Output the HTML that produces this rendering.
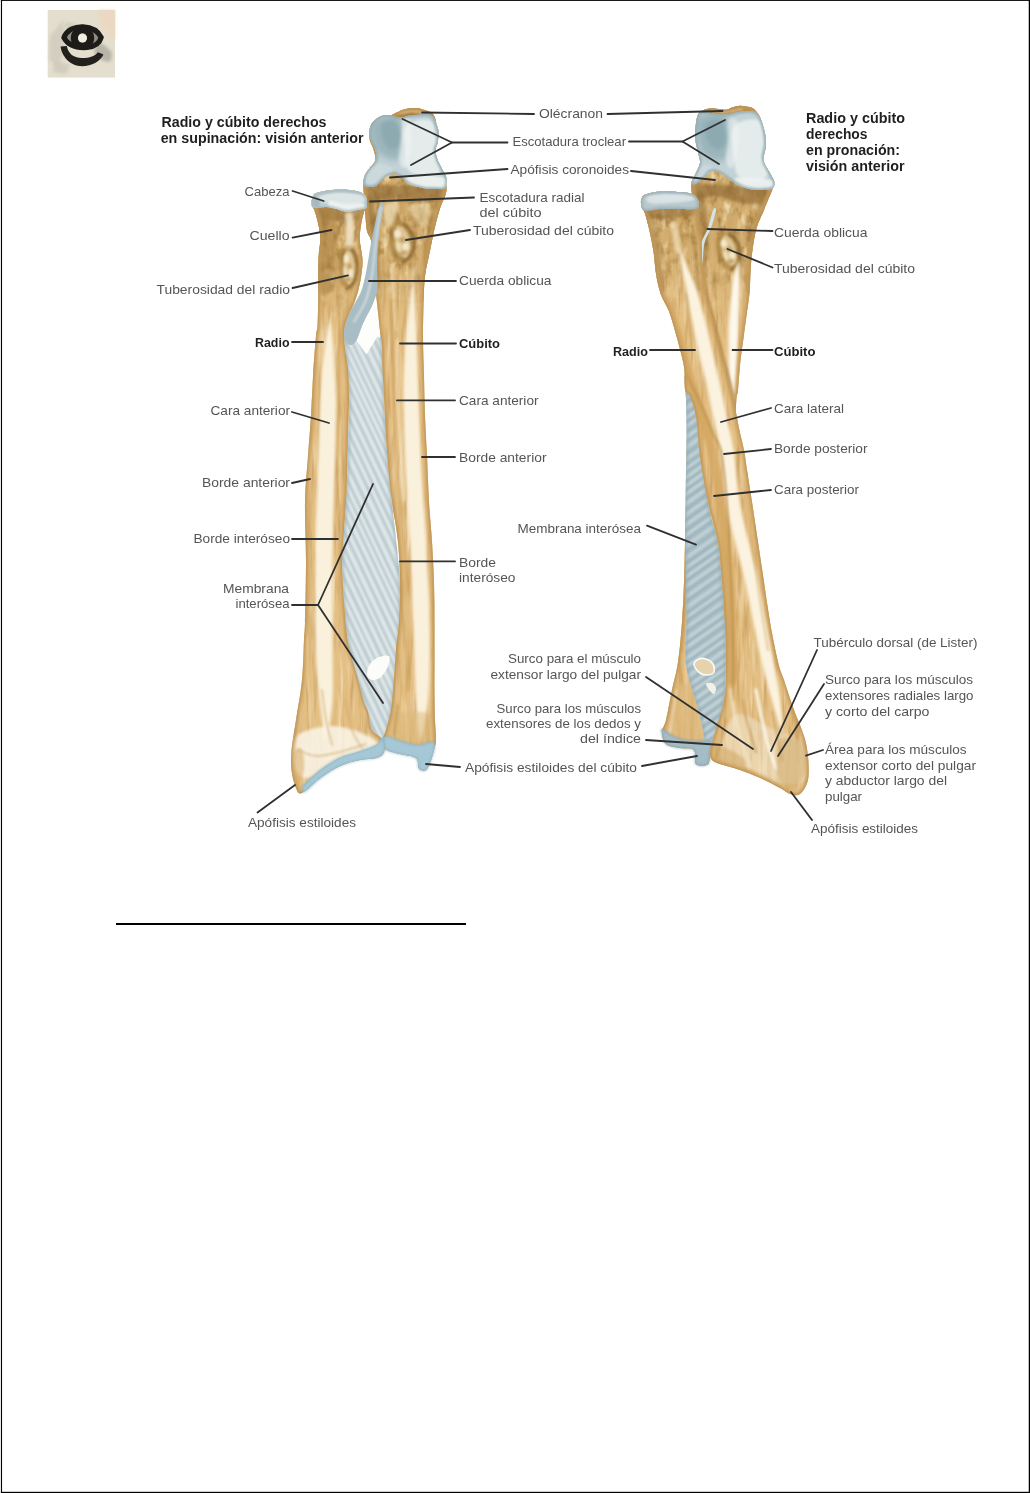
<!DOCTYPE html>
<html lang="es">
<head>
<meta charset="utf-8">
<title>Radio y cúbito derechos</title>
<style>
html,body{margin:0;padding:0;background:#fff;}
body{width:1030px;height:1493px;position:relative;overflow:hidden;font-family:"Liberation Sans",sans-serif;}
.page{position:absolute;left:0;top:0;width:1030px;height:1493px;background:#fff;}
svg{position:absolute;left:0;top:0;}
text{font-family:"Liberation Sans",sans-serif;}
</style>
</head>
<body>
<div class="page"></div>
<svg width="1030" height="1493" viewBox="0 0 1030 1493" role="img" aria-label="Radio y cúbito derechos: visión anterior en supinación y en pronación">
<g id="frame" fill="#000"><rect x="0.9" y="0" width="1.15" height="1493"/><rect x="0.9" y="0" width="1029.1" height="0.9"/><rect x="1028.75" y="0" width="1.25" height="1493"/><rect x="0.9" y="1491.8" width="1029.1" height="1.2"/><rect id="rule" x="116" y="923" width="350" height="2"/></g>
<defs>
<filter color-interpolation-filters="sRGB" id="b1" filterUnits="userSpaceOnUse" x="0" y="0" width="1030" height="900"><feGaussianBlur stdDeviation="0.9"/></filter>
<filter color-interpolation-filters="sRGB" id="b2" filterUnits="userSpaceOnUse" x="0" y="0" width="1030" height="900"><feGaussianBlur stdDeviation="1.8"/></filter>
<filter color-interpolation-filters="sRGB" id="b3" filterUnits="userSpaceOnUse" x="0" y="0" width="1030" height="900"><feGaussianBlur stdDeviation="3.2"/></filter>
<filter color-interpolation-filters="sRGB" id="b5" filterUnits="userSpaceOnUse" x="0" y="0" width="1030" height="900"><feGaussianBlur stdDeviation="5"/></filter>
<filter color-interpolation-filters="sRGB" id="tb1" filterUnits="userSpaceOnUse" x="-60" y="-60" width="120" height="120"><feGaussianBlur stdDeviation="0.9"/></filter>
<filter color-interpolation-filters="sRGB" id="tb2" filterUnits="userSpaceOnUse" x="-60" y="-60" width="120" height="120"><feGaussianBlur stdDeviation="1.8"/></filter>
<filter color-interpolation-filters="sRGB" id="soft" x="-5%" y="-5%" width="110%" height="110%"><feGaussianBlur stdDeviation="0.55"/></filter>
<filter color-interpolation-filters="sRGB" id="softt" x="-5%" y="-5%" width="110%" height="110%"><feGaussianBlur stdDeviation="0.45"/></filter>
<filter color-interpolation-filters="sRGB" id="art" x="0" y="0" width="100%" height="100%"><feGaussianBlur stdDeviation="0.75"/></filter>
<filter color-interpolation-filters="sRGB" id="grainD" x="0" y="0" width="100%" height="100%"><feTurbulence type="fractalNoise" baseFrequency="0.22 0.02" numOctaves="3" seed="4"/><feColorMatrix type="matrix" values="0 0 0 0 0.70  0 0 0 0 0.52  0 0 0 0 0.26  0 0 0 3.2 -1.55"/></filter>
<filter color-interpolation-filters="sRGB" id="mottD" x="0" y="0" width="100%" height="100%"><feTurbulence type="fractalNoise" baseFrequency="0.11 0.07" numOctaves="3" seed="8"/><feColorMatrix type="matrix" values="0 0 0 0 0.58  0 0 0 0 0.42  0 0 0 0 0.19  0 0 0 3 -1.4"/></filter>
<filter color-interpolation-filters="sRGB" id="mottL" x="0" y="0" width="100%" height="100%"><feTurbulence type="fractalNoise" baseFrequency="0.1 0.06" numOctaves="3" seed="31"/><feColorMatrix type="matrix" values="0 0 0 0 0.95  0 0 0 0 0.88  0 0 0 0 0.7  0 0 0 3 -1.65"/></filter>
<filter color-interpolation-filters="sRGB" id="grainL" x="0" y="0" width="100%" height="100%"><feTurbulence type="fractalNoise" baseFrequency="0.18 0.016" numOctaves="3" seed="19"/><feColorMatrix type="matrix" values="0 0 0 0 0.99  0 0 0 0 0.96  0 0 0 0 0.88  0 0 0 3.2 -1.6"/></filter>
</defs>
<g id="logo" filter="url(#soft)">
<rect x="47.7" y="10" width="67.3" height="67.6" fill="#e3decd"/>
<path d="M98 10h17v30c-8-4-14-14-17-30z" fill="#ecd8c2" filter="url(#b2)"/>
<path d="M96 42c6 1 12 5 16 11l-1 8c-6 2-13-2-17-9z" fill="#a9a79c" opacity=".75" filter="url(#b2)"/>
<path d="M50 36l13-16 3 22-7 24-10-6z" fill="#d0ccbe" opacity=".8" filter="url(#b2)"/>
<path d="M54 60l16 5-4 9-13-2z" fill="#ccc8ba" opacity=".75" filter="url(#b2)"/>
<path d="M66 22l10 2-2 5-9-1z" fill="#c9c6b9" opacity=".7" filter="url(#b2)"/>
<path d="M63.9 37.6C67 29.6 75 26.5 83 26.8C91 27.1 98 31 101.2 37.4C99.5 43.4 94 46.9 87 47.5C77 48.2 68 45.4 63.9 37.6Z" fill="#8f8d84" stroke="#1d1c19" stroke-width="5.2" stroke-linejoin="round"/>
<circle cx="82.5" cy="38" r="8.1" fill="none" stroke="#1d1c19" stroke-width="7.2"/>
<circle cx="82.5" cy="38" r="4.5" fill="#f1ede1"/>
<path d="M60.6 46.6C61.5 56 70 66.3 82 66.3C92 66.3 100 61.5 103.5 54.6L98 52.2C95 56 90 58 82 58C73 58 68 53 66.8 46Z" fill="#22211d"/>
</g>
<g id="figL" filter="url(#art)">
<clipPath id="c_mL"><path d="M344 327C345.8 322 351.7 323.5 356 322C360.3 320.5 366.3 319.4 370 318C373.7 316.6 376.2 308.9 378.2 313.3C380.2 317.7 380.7 323.9 382 344.4C383.3 364.8 384.3 409.7 386 436C387.7 462.3 389.7 477.7 392 502C394.3 526.3 398.8 559 400 582C401.2 605 400 622 399 640C398 658 396 674.2 394 690C392 705.8 389.2 726.2 387 735C384.8 743.8 383.5 743.8 381 743C378.5 742.2 374.8 736.8 372 730C369.2 723.2 368 716.7 364 702C360 687.3 351.7 665.3 348 642C344.3 618.7 342.3 585.3 342 562C341.7 538.7 344.8 529.7 346 502C347.2 474.3 349.1 421 349 396C348.9 371 346.3 363.5 345.5 352C344.7 340.5 342.2 332 344 327Z"/></clipPath>
<path d="M344 327C345.8 322 351.7 323.5 356 322C360.3 320.5 366.3 319.4 370 318C373.7 316.6 376.2 308.9 378.2 313.3C380.2 317.7 380.7 323.9 382 344.4C383.3 364.8 384.3 409.7 386 436C387.7 462.3 389.7 477.7 392 502C394.3 526.3 398.8 559 400 582C401.2 605 400 622 399 640C398 658 396 674.2 394 690C392 705.8 389.2 726.2 387 735C384.8 743.8 383.5 743.8 381 743C378.5 742.2 374.8 736.8 372 730C369.2 723.2 368 716.7 364 702C360 687.3 351.7 665.3 348 642C344.3 618.7 342.3 585.3 342 562C341.7 538.7 344.8 529.7 346 502C347.2 474.3 349.1 421 349 396C348.9 371 346.3 363.5 345.5 352C344.7 340.5 342.2 332 344 327Z" fill="#cfdbde"/>
<g clip-path="url(#c_mL)">
<path d="M334 150.9L408 306.3M334 165.9L408 321.3M334 182.4L408 337.8M334 197.8L408 353.2M334 211.6L408 367M334 228.2L408 383.6M334 241L408 396.4M334 255.6L408 411M334 269.6L408 425M334 288.1L408 443.5M334 304.1L408 459.5M334 316L408 471.4M334 329.5L408 484.9M334 342.4L408 497.8M334 355.5L408 510.9M334 371.5L408 526.9M334 387.1L408 542.5M334 402.7L408 558.1M334 416.7L408 572.1M334 435.5L408 590.9M334 452.5L408 607.9M334 465.8L408 621.2M334 478.4L408 633.8M334 494L408 649.4M334 509.9L408 665.3M334 527.9L408 683.3M334 540L408 695.4M334 556.4L408 711.8M334 572.8L408 728.2M334 586.7L408 742.1M334 601.9L408 757.3M334 614.7L408 770.1M334 632.4L408 787.8M334 645L408 800.4M334 656.9L408 812.3M334 671.8L408 827.2M334 686.8L408 842.2M334 701.5L408 856.9M334 715.7L408 871.1M334 728.9L408 884.3M334 742L408 897.4M334 759.9L408 915.3M334 775.6L408 931M334 789.1L408 944.5M334 806L408 961.4M334 821.3L408 976.7M334 834.4L408 989.8M334 849.7L408 1005.1M334 862.4L408 1017.8M334 876.1L408 1031.5M334 890.6L408 1046M334 904.9L408 1060.3" stroke="#9db0b6" stroke-width="1.5" opacity=".65" fill="none" filter="url(#b1)"/>
<path d="M334 158.2L408 313.6M334 175L408 330.4M334 189.9L408 345.3M334 204.1L408 359.5M334 219.6L408 375M334 234.2L408 389.6M334 246.9L408 402.3M334 263.8L408 419.2M334 278.9L408 434.3M334 296.2L408 451.6M334 310.4L408 465.8M334 323.7L408 479.1M334 335.8L408 491.2M334 348.1L408 503.5M334 362.8L408 518.2M334 379.1L408 534.5M334 394.6L408 550M334 410.1L408 565.5M334 426.1L408 581.5M334 444.2L408 599.6M334 459.3L408 614.7M334 472.5L408 627.9M334 486.9L408 642.3M334 502.8L408 658.2M334 519.1L408 674.5M334 533.6L408 689M334 549L408 704.4M334 565.7L408 721.1M334 578.7L408 734.1M334 595.2L408 750.6M334 607.8L408 763.2M334 623.9L408 779.3M334 638.5L408 793.9M334 651L408 806.4M334 665.5L408 820.9M334 679.5L408 834.9M334 693.2L408 848.6M334 707.6L408 863M334 721.7L408 877.1M334 735.4L408 890.8M334 751.3L408 906.7M334 766.7L408 922.1M334 782L408 937.4M334 798L408 953.4M334 812L408 967.4M334 827.8L408 983.2M334 842.9L408 998.3M334 856.5L408 1011.9M334 868.3L408 1023.7M334 882.7L408 1038.1M334 897.6L408 1053" stroke="#f2f6f6" stroke-width="2.2" opacity=".65" fill="none" filter="url(#b1)"/>
<path d="M344 327C345.8 322 351.7 323.5 356 322C360.3 320.5 366.3 319.4 370 318C373.7 316.6 376.2 308.9 378.2 313.3C380.2 317.7 380.7 323.9 382 344.4C383.3 364.8 384.3 409.7 386 436C387.7 462.3 389.7 477.7 392 502C394.3 526.3 398.8 559 400 582C401.2 605 400 622 399 640C398 658 396 674.2 394 690C392 705.8 389.2 726.2 387 735C384.8 743.8 383.5 743.8 381 743C378.5 742.2 374.8 736.8 372 730C369.2 723.2 368 716.7 364 702C360 687.3 351.7 665.3 348 642C344.3 618.7 342.3 585.3 342 562C341.7 538.7 344.8 529.7 346 502C347.2 474.3 349.1 421 349 396C348.9 371 346.3 363.5 345.5 352C344.7 340.5 342.2 332 344 327Z" fill="none" stroke="#93aab4" stroke-width="3.5" opacity=".6" filter="url(#b2)"/>
</g>
<path d="M367 674C366.7 671.3 368.2 666.8 370 664C371.8 661.2 374.8 658.8 378 657.5C381.2 656.2 387.3 654.6 389 656C390.7 657.4 389.3 662.5 388 666C386.7 669.5 383.7 674.7 381 677C378.3 679.3 374.3 680.5 372 680C369.7 679.5 367.3 676.7 367 674Z" fill="#fcfcfb"/>
<path d="M373.5 300L380 300L380 338L377.4 336.6L366.5 354.5L356.4 340.5L363.4 322.6L370.4 309.4Z" fill="#fdfdfc"/>
<clipPath id="c_uL"><path d="M369.2 132C369.4 129.4 370.1 127 371 125C371.9 123 373.1 121.7 374.6 120.3C376.1 118.9 378.2 117.4 380 116.5C381.8 115.6 383.5 115.2 385.3 115C387.1 114.8 389.2 115.6 391 115.2C392.8 114.8 393.6 113.8 396 112.8C398.4 111.8 402.2 109.8 405.6 109C409 108.2 413 107.8 416.2 108C419.4 108.2 422.1 109.2 424.8 110.1C427.5 111 430.5 112 432.3 113.5C434.1 115 434.8 117.4 435.5 119.2C436.2 121 436 122.5 436.5 124.6C437 126.7 438.5 129 438.7 132C438.9 135 438.1 139.7 437.6 142.7C437.1 145.7 435.5 147.3 435.5 150.2C435.5 153 436.5 156.8 437.6 159.8C438.7 162.8 440.5 165.6 441.9 168.4C443.3 171.2 445.4 174.2 446.2 176.9C447 179.6 446.8 181.5 446.7 184.4C446.6 187.3 446.8 190.5 445.6 194.6C444.5 198.7 441.7 203 439.8 209.1C437.9 215.2 435.7 223.7 434 231C432.3 238.3 431.1 245.5 429.6 252.8C428.1 260.1 426.2 267.4 425.2 274.7C424.2 282 424.2 286.3 423.8 296.5C423.4 306.7 423 322.8 423 336C423 349.2 423.7 362.7 424 376C424.3 389.3 424.5 402.7 425 416C425.5 429.3 426.3 441.7 427 456C427.7 470.3 428.2 487.7 429 502C429.8 516.3 431.2 528.7 432 542C432.8 555.3 433.6 568.7 434 582C434.4 595.3 434.4 608.7 434.5 622C434.6 635.3 434.5 648.7 434.5 662C434.5 675.3 434.4 692.3 434.5 702C434.6 711.7 434.8 713.7 435 720C435.2 726.3 436.1 735.3 436 740C435.9 744.7 435.3 744.7 434.5 748C433.7 751.3 432.4 756.3 431 760C429.6 763.7 428 768.6 426 770C424 771.4 420.7 770.5 419 768.5C417.3 766.5 419.2 760.4 416 758C412.8 755.6 405.2 755.5 400 754C394.8 752.5 387.8 751.3 385 749C382.2 746.7 382.8 743.2 383 740C383.2 736.8 384.7 735 386 730C387.3 725 389.7 718.3 391 710C392.3 701.7 393.2 690 394 680C394.8 670 395.2 659.7 396 650C396.8 640.3 398.3 633.3 399 622C399.7 610.7 400.2 595.3 400 582C399.8 568.7 399.3 555.3 398 542C396.7 528.7 393.5 513 392 502C390.5 491 390 487 389 476C388 465 386.8 449.3 386 436C385.2 422.7 384.6 407.5 384 396C383.4 384.5 382.8 375.6 382.5 367C382.2 358.4 382.5 350.8 382 344.4C381.5 338 380.3 334 379.7 328.8C379.1 323.6 378.9 319.8 378.2 313.3C377.5 306.8 376.1 295.2 375.7 290C375.3 284.8 376 286.7 375.7 282C375.4 277.3 374.7 268.8 374 262C373.3 255.2 372.6 246.4 371.4 241.2C370.2 236 368 235.1 367 231C366 226.9 366 222.4 365.5 216.4C365 210.4 364.4 200.7 364 195C363.6 189.3 363.2 185.7 363.4 182.3C363.6 178.9 364 177.1 365 174.8C366 172.5 367.6 170.5 369.2 168.4C370.8 166.3 373.6 164.1 374.6 162C375.6 159.9 375.4 157.9 375.1 155.6C374.8 153.3 373.9 150.5 373 148C372.1 145.5 370.4 143.3 369.8 140.6C369.2 137.9 369 134.6 369.2 132Z"/></clipPath>
<path d="M369.2 132C369.4 129.4 370.1 127 371 125C371.9 123 373.1 121.7 374.6 120.3C376.1 118.9 378.2 117.4 380 116.5C381.8 115.6 383.5 115.2 385.3 115C387.1 114.8 389.2 115.6 391 115.2C392.8 114.8 393.6 113.8 396 112.8C398.4 111.8 402.2 109.8 405.6 109C409 108.2 413 107.8 416.2 108C419.4 108.2 422.1 109.2 424.8 110.1C427.5 111 430.5 112 432.3 113.5C434.1 115 434.8 117.4 435.5 119.2C436.2 121 436 122.5 436.5 124.6C437 126.7 438.5 129 438.7 132C438.9 135 438.1 139.7 437.6 142.7C437.1 145.7 435.5 147.3 435.5 150.2C435.5 153 436.5 156.8 437.6 159.8C438.7 162.8 440.5 165.6 441.9 168.4C443.3 171.2 445.4 174.2 446.2 176.9C447 179.6 446.8 181.5 446.7 184.4C446.6 187.3 446.8 190.5 445.6 194.6C444.5 198.7 441.7 203 439.8 209.1C437.9 215.2 435.7 223.7 434 231C432.3 238.3 431.1 245.5 429.6 252.8C428.1 260.1 426.2 267.4 425.2 274.7C424.2 282 424.2 286.3 423.8 296.5C423.4 306.7 423 322.8 423 336C423 349.2 423.7 362.7 424 376C424.3 389.3 424.5 402.7 425 416C425.5 429.3 426.3 441.7 427 456C427.7 470.3 428.2 487.7 429 502C429.8 516.3 431.2 528.7 432 542C432.8 555.3 433.6 568.7 434 582C434.4 595.3 434.4 608.7 434.5 622C434.6 635.3 434.5 648.7 434.5 662C434.5 675.3 434.4 692.3 434.5 702C434.6 711.7 434.8 713.7 435 720C435.2 726.3 436.1 735.3 436 740C435.9 744.7 435.3 744.7 434.5 748C433.7 751.3 432.4 756.3 431 760C429.6 763.7 428 768.6 426 770C424 771.4 420.7 770.5 419 768.5C417.3 766.5 419.2 760.4 416 758C412.8 755.6 405.2 755.5 400 754C394.8 752.5 387.8 751.3 385 749C382.2 746.7 382.8 743.2 383 740C383.2 736.8 384.7 735 386 730C387.3 725 389.7 718.3 391 710C392.3 701.7 393.2 690 394 680C394.8 670 395.2 659.7 396 650C396.8 640.3 398.3 633.3 399 622C399.7 610.7 400.2 595.3 400 582C399.8 568.7 399.3 555.3 398 542C396.7 528.7 393.5 513 392 502C390.5 491 390 487 389 476C388 465 386.8 449.3 386 436C385.2 422.7 384.6 407.5 384 396C383.4 384.5 382.8 375.6 382.5 367C382.2 358.4 382.5 350.8 382 344.4C381.5 338 380.3 334 379.7 328.8C379.1 323.6 378.9 319.8 378.2 313.3C377.5 306.8 376.1 295.2 375.7 290C375.3 284.8 376 286.7 375.7 282C375.4 277.3 374.7 268.8 374 262C373.3 255.2 372.6 246.4 371.4 241.2C370.2 236 368 235.1 367 231C366 226.9 366 222.4 365.5 216.4C365 210.4 364.4 200.7 364 195C363.6 189.3 363.2 185.7 363.4 182.3C363.6 178.9 364 177.1 365 174.8C366 172.5 367.6 170.5 369.2 168.4C370.8 166.3 373.6 164.1 374.6 162C375.6 159.9 375.4 157.9 375.1 155.6C374.8 153.3 373.9 150.5 373 148C372.1 145.5 370.4 143.3 369.8 140.6C369.2 137.9 369 134.6 369.2 132Z" fill="#e4bf83"/>
<g clip-path="url(#c_uL)">
<rect x="359.4" y="104" width="91.3" height="670" filter="url(#grainD)" opacity=".45"/>
<rect x="359.4" y="104" width="91.3" height="670" filter="url(#grainL)" opacity=".38"/>
<linearGradient id="mg_uL" gradientUnits="userSpaceOnUse" x1="0" y1="245" x2="0" y2="325"><stop offset="0" stop-color="#fff"/><stop offset="1" stop-color="#000"/></linearGradient>
<mask id="mk_uL" maskUnits="userSpaceOnUse" x="358" y="100" width="95" height="240"><rect x="358" y="100" width="95" height="240" fill="url(#mg_uL)"/></mask>
<g mask="url(#mk_uL)" opacity="0.8">
<rect x="358" y="100" width="95" height="240" fill="#c8a262" opacity=".85"/>
<rect x="358" y="100" width="95" height="240" filter="url(#mottD)"/>
<rect x="358" y="100" width="95" height="240" filter="url(#mottL)"/>
</g>
<path d="M392 106C399 103.7 426.7 103.7 434 106C441.3 108.3 443 117.7 436 120C429 122.3 399.3 122.3 392 120C384.7 117.7 385 108.3 392 106Z" fill="#a27c3f" opacity="0.8" filter="url(#b1)"/>
<path d="M400 112.5C402 112.2 408 111 412 111C416 111 422 112.2 424 112.5" fill="none" stroke="#ead9b2" stroke-width="2" stroke-linecap="round" opacity="0.85" filter="url(#b1)"/>
<path d="M364 186C377.5 183.5 432.7 185.8 446 188C459.3 190.2 448.3 196.5 444 199C439.7 201.5 429 202.8 420 203C411 203.2 399.2 200 390 200C380.8 200 369.3 205.3 365 203C360.7 200.7 350.5 188.5 364 186Z" fill="#94703a" opacity="0.7" filter="url(#b2)"/>
<path d="M364 200C364.7 191.7 369.8 193.3 372 200C374.2 206.7 375.7 226.3 377 240C378.3 253.7 380.3 274.3 380 282C379.7 289.7 377 291.3 375 286C373 280.7 369.8 264.3 368 250C366.2 235.7 363.3 208.3 364 200Z" fill="#94703a" opacity="0.65" filter="url(#b2)"/>
<path d="M434 203C437.2 195.8 443.7 195.8 444 202C444.3 208.2 438.5 225.3 436 240C433.5 254.7 431.2 281.7 429 290C426.8 298.3 423.7 297.5 423 290C422.3 282.5 423.2 259.5 425 245C426.8 230.5 430.8 210.2 434 203Z" fill="#a07a3e" opacity="0.6" filter="url(#b2)"/>
<path d="M384 206C385.8 202.3 396.3 201.3 398 204C399.7 206.7 395.8 218.3 394 222C392.2 225.7 388.7 228.7 387 226C385.3 223.3 382.2 209.7 384 206Z" fill="#ecdcb6" opacity="0.7" filter="url(#b2)"/>
<path d="M412 205C414.3 202.2 427.7 201.5 430 205C432.3 208.5 428.3 223.2 426 226C423.7 228.8 418.3 225.5 416 222C413.7 218.5 409.7 207.8 412 205Z" fill="#e6d2a6" opacity="0.6" filter="url(#b2)"/>
<g transform="translate(402.5 242) rotate(-10)">
<ellipse cx="0" cy="0" rx="13.8" ry="22" fill="#a17a3b" opacity=".45" filter="url(#tb2)"/>
<path d="M-2.4 -17C8.4 -16 10.8 4 2.4 16C-7.2 18 -10.8 -6 -2.4 -17Z" fill="#e8d3a4" opacity=".8" filter="url(#tb1)"/>
<ellipse cx="-3.6" cy="-9" rx="3.6" ry="4" fill="#f7eed8" opacity=".85" filter="url(#tb1)"/>
<ellipse cx="2.4" cy="5" rx="3.4" ry="4" fill="#f7eed8" opacity=".8" filter="url(#tb1)"/>
<ellipse cx="-4.8" cy="4" rx="2.4" ry="5" fill="#f4e8cb" opacity=".7" filter="url(#tb1)"/>
<ellipse cx="0.6" cy="-2" rx="3" ry="2.4" fill="#b08a4c" opacity=".6" filter="url(#tb1)"/>
<ellipse cx="-1.2" cy="11" rx="3.6" ry="2" fill="#b08a4c" opacity=".55" filter="url(#tb1)"/>
<path d="M3.6 -18C15.6 -8 15 14 -3.6 20" fill="none" stroke="#7f5c28" stroke-width="2.4" opacity=".75" filter="url(#tb1)"/>
<path d="M-7.2 -16C-12.6 -6 -12 8 -7.2 17" fill="none" stroke="#a37b3c" stroke-width="1.6" opacity=".6" filter="url(#tb1)"/>
</g>
<path d="M392 270C392.3 275 393.3 290 394 300C394.7 310 395.7 325 396 330" fill="none" stroke="#eddcb5" stroke-width="3" stroke-linecap="round" opacity="0.6" filter="url(#b1)"/>
<path d="M414 268C413.7 273.3 412.3 294.7 412 300" fill="none" stroke="#ecd9b0" stroke-width="4" stroke-linecap="round" opacity="0.6" filter="url(#b2)"/>
<path d="M412.5 285C411.7 290 409.8 304.1 408.5 314.9C407.3 325.7 405.8 335.7 405 349.9C404.2 364.1 403.3 378.4 403.5 400.2C403.7 421.9 404.8 453.7 406 480.4C407.3 507.1 409.7 533.8 411 560.4C412.3 587 413.2 616.9 414 640.2C414.8 663.4 415.1 684.1 416 699.9C416.9 715.7 418.4 729.1 419.5 735C420.6 740.8 421.1 740.9 422.5 735C423.9 729.2 426.7 715.9 428 700.1C429.2 684.2 430.2 663.2 430 639.8C429.8 616.4 428.3 586.3 427 559.6C425.7 532.9 423.4 506.2 422 479.6C420.6 453 419.3 421.4 418.5 399.8C417.7 378.2 417.5 364.2 417 350.1C416.5 336 416.1 325.9 415.5 315.1C414.9 304.3 414 290 413.5 285C413 280 413.3 280 412.5 285Z" fill="#faf1dc" opacity="1" filter="url(#b2)"/>
<path d="M391 300C391.3 313.3 392.2 355 393 380C393.8 405 394.5 426.7 396 450C397.5 473.3 400 495 402 520C404 545 407 571.7 408 600C409 628.3 408 675 408 690" fill="none" stroke="#c99d5b" stroke-width="2.2" stroke-linecap="round" opacity="0.55" filter="url(#b1)"/>
<path d="M397 340C397.3 353.3 397.8 393.3 399 420C400.2 446.7 403.2 486.7 404 500" fill="none" stroke="#f3e3c4" stroke-width="3" stroke-linecap="round" opacity="0.6" filter="url(#b1)"/>
<path d="M428 330C428.3 345 429.3 388.3 430 420C430.7 451.7 431.5 490 432 520C432.5 550 432.8 586.7 433 600" fill="none" stroke="#dcb777" stroke-width="2.5" stroke-linecap="round" opacity="0.5" filter="url(#b1)"/>
<path d="M390 715C398 710.5 426.3 710 434 715C441.7 720 444 740.5 436 745C428 749.5 393.7 747 386 742C378.3 737 382 719.5 390 715Z" fill="#d9b579" opacity="0.5" filter="url(#b2)"/>
<path d="M398 705C397.3 710 394.7 730 394 735" fill="none" stroke="#b68d4d" stroke-width="2.5" stroke-linecap="round" opacity="0.5" filter="url(#b1)"/>
<path d="M369.2 132C369.4 129.4 370.1 127 371 125C371.9 123 373.1 121.7 374.6 120.3C376.1 118.9 378.2 117.4 380 116.5C381.8 115.6 383.5 115.2 385.3 115C387.1 114.8 389.2 115.6 391 115.2C392.8 114.8 393.6 113.8 396 112.8C398.4 111.8 402.2 109.8 405.6 109C409 108.2 413 107.8 416.2 108C419.4 108.2 422.1 109.2 424.8 110.1C427.5 111 430.5 112 432.3 113.5C434.1 115 434.8 117.4 435.5 119.2C436.2 121 436 122.5 436.5 124.6C437 126.7 438.5 129 438.7 132C438.9 135 438.1 139.7 437.6 142.7C437.1 145.7 435.5 147.3 435.5 150.2C435.5 153 436.5 156.8 437.6 159.8C438.7 162.8 440.5 165.6 441.9 168.4C443.3 171.2 445.4 174.2 446.2 176.9C447 179.6 446.8 181.5 446.7 184.4C446.6 187.3 446.8 190.5 445.6 194.6C444.5 198.7 441.7 203 439.8 209.1C437.9 215.2 435.7 223.7 434 231C432.3 238.3 431.1 245.5 429.6 252.8C428.1 260.1 426.2 267.4 425.2 274.7C424.2 282 424.2 286.3 423.8 296.5C423.4 306.7 423 322.8 423 336C423 349.2 423.7 362.7 424 376C424.3 389.3 424.5 402.7 425 416C425.5 429.3 426.3 441.7 427 456C427.7 470.3 428.2 487.7 429 502C429.8 516.3 431.2 528.7 432 542C432.8 555.3 433.6 568.7 434 582C434.4 595.3 434.4 608.7 434.5 622C434.6 635.3 434.5 648.7 434.5 662C434.5 675.3 434.4 692.3 434.5 702C434.6 711.7 434.8 713.7 435 720C435.2 726.3 436.1 735.3 436 740C435.9 744.7 435.3 744.7 434.5 748C433.7 751.3 432.4 756.3 431 760C429.6 763.7 428 768.6 426 770C424 771.4 420.7 770.5 419 768.5C417.3 766.5 419.2 760.4 416 758C412.8 755.6 405.2 755.5 400 754C394.8 752.5 387.8 751.3 385 749C382.2 746.7 382.8 743.2 383 740C383.2 736.8 384.7 735 386 730C387.3 725 389.7 718.3 391 710C392.3 701.7 393.2 690 394 680C394.8 670 395.2 659.7 396 650C396.8 640.3 398.3 633.3 399 622C399.7 610.7 400.2 595.3 400 582C399.8 568.7 399.3 555.3 398 542C396.7 528.7 393.5 513 392 502C390.5 491 390 487 389 476C388 465 386.8 449.3 386 436C385.2 422.7 384.6 407.5 384 396C383.4 384.5 382.8 375.6 382.5 367C382.2 358.4 382.5 350.8 382 344.4C381.5 338 380.3 334 379.7 328.8C379.1 323.6 378.9 319.8 378.2 313.3C377.5 306.8 376.1 295.2 375.7 290C375.3 284.8 376 286.7 375.7 282C375.4 277.3 374.7 268.8 374 262C373.3 255.2 372.6 246.4 371.4 241.2C370.2 236 368 235.1 367 231C366 226.9 366 222.4 365.5 216.4C365 210.4 364.4 200.7 364 195C363.6 189.3 363.2 185.7 363.4 182.3C363.6 178.9 364 177.1 365 174.8C366 172.5 367.6 170.5 369.2 168.4C370.8 166.3 373.6 164.1 374.6 162C375.6 159.9 375.4 157.9 375.1 155.6C374.8 153.3 373.9 150.5 373 148C372.1 145.5 370.4 143.3 369.8 140.6C369.2 137.9 369 134.6 369.2 132Z" fill="none" stroke="#cfa565" stroke-width="7" opacity=".7" filter="url(#b2)"/>
<path d="M369.2 132C369.4 129.4 370.1 127 371 125C371.9 123 373.1 121.7 374.6 120.3C376.1 118.9 378.2 117.4 380 116.5C381.8 115.6 383.5 115.2 385.3 115C387.1 114.8 389.2 115.6 391 115.2C392.8 114.8 393.6 113.8 396 112.8C398.4 111.8 402.2 109.8 405.6 109C409 108.2 413 107.8 416.2 108C419.4 108.2 422.1 109.2 424.8 110.1C427.5 111 430.5 112 432.3 113.5C434.1 115 434.8 117.4 435.5 119.2C436.2 121 436 122.5 436.5 124.6C437 126.7 438.5 129 438.7 132C438.9 135 438.1 139.7 437.6 142.7C437.1 145.7 435.5 147.3 435.5 150.2C435.5 153 436.5 156.8 437.6 159.8C438.7 162.8 440.5 165.6 441.9 168.4C443.3 171.2 445.4 174.2 446.2 176.9C447 179.6 446.8 181.5 446.7 184.4C446.6 187.3 446.8 190.5 445.6 194.6C444.5 198.7 441.7 203 439.8 209.1C437.9 215.2 435.7 223.7 434 231C432.3 238.3 431.1 245.5 429.6 252.8C428.1 260.1 426.2 267.4 425.2 274.7C424.2 282 424.2 286.3 423.8 296.5C423.4 306.7 423 322.8 423 336C423 349.2 423.7 362.7 424 376C424.3 389.3 424.5 402.7 425 416C425.5 429.3 426.3 441.7 427 456C427.7 470.3 428.2 487.7 429 502C429.8 516.3 431.2 528.7 432 542C432.8 555.3 433.6 568.7 434 582C434.4 595.3 434.4 608.7 434.5 622C434.6 635.3 434.5 648.7 434.5 662C434.5 675.3 434.4 692.3 434.5 702C434.6 711.7 434.8 713.7 435 720C435.2 726.3 436.1 735.3 436 740C435.9 744.7 435.3 744.7 434.5 748C433.7 751.3 432.4 756.3 431 760C429.6 763.7 428 768.6 426 770C424 771.4 420.7 770.5 419 768.5C417.3 766.5 419.2 760.4 416 758C412.8 755.6 405.2 755.5 400 754C394.8 752.5 387.8 751.3 385 749C382.2 746.7 382.8 743.2 383 740C383.2 736.8 384.7 735 386 730C387.3 725 389.7 718.3 391 710C392.3 701.7 393.2 690 394 680C394.8 670 395.2 659.7 396 650C396.8 640.3 398.3 633.3 399 622C399.7 610.7 400.2 595.3 400 582C399.8 568.7 399.3 555.3 398 542C396.7 528.7 393.5 513 392 502C390.5 491 390 487 389 476C388 465 386.8 449.3 386 436C385.2 422.7 384.6 407.5 384 396C383.4 384.5 382.8 375.6 382.5 367C382.2 358.4 382.5 350.8 382 344.4C381.5 338 380.3 334 379.7 328.8C379.1 323.6 378.9 319.8 378.2 313.3C377.5 306.8 376.1 295.2 375.7 290C375.3 284.8 376 286.7 375.7 282C375.4 277.3 374.7 268.8 374 262C373.3 255.2 372.6 246.4 371.4 241.2C370.2 236 368 235.1 367 231C366 226.9 366 222.4 365.5 216.4C365 210.4 364.4 200.7 364 195C363.6 189.3 363.2 185.7 363.4 182.3C363.6 178.9 364 177.1 365 174.8C366 172.5 367.6 170.5 369.2 168.4C370.8 166.3 373.6 164.1 374.6 162C375.6 159.9 375.4 157.9 375.1 155.6C374.8 153.3 373.9 150.5 373 148C372.1 145.5 370.4 143.3 369.8 140.6C369.2 137.9 369 134.6 369.2 132Z" fill="none" stroke="#b1894a" stroke-width="2" opacity=".8" filter="url(#b1)"/>
</g>
<clipPath id="c_cuL"><path d="M369.5 132C369.5 129.4 370.1 127 371 125C371.9 123 373.1 121.7 374.6 120.3C376.1 118.9 378.2 117.4 380 116.5C381.8 115.6 383.5 115.2 385.3 115C387.1 114.8 389.1 115.1 391 115.5C392.9 115.9 394.8 117.2 397 117.5C399.2 117.8 401.8 117.3 404 117C406.2 116.7 407.3 115.9 410 115.5C412.7 115.1 417 114.8 420 114.5C423 114.2 425.8 113.6 428 114C430.2 114.4 431.9 115.2 433.3 117C434.7 118.8 435.6 122.1 436.5 124.6C437.4 127.1 438.5 129 438.7 132C438.9 135 438.1 139.7 437.6 142.7C437.1 145.7 435.5 147.3 435.5 150.2C435.5 153 436.5 156.8 437.6 159.8C438.7 162.8 440.5 165.6 441.9 168.4C443.3 171.2 445.4 174.2 446.2 176.9C447 179.6 447.1 182.4 446.7 184.4C446.3 186.4 445.8 187.9 444 188.7C442.2 189.5 439.2 189 436 189C432.8 189 429.3 189.3 425 188.6C420.7 187.8 413.6 186.1 410 184.5C406.4 182.9 405.9 180.8 403.4 179C400.9 177.2 397.9 174 394.9 173.7C391.9 173.4 388.3 175 385.3 177C382.3 179 379.6 183.8 376.7 185.5C373.8 187.2 370.1 187.2 368 187C365.9 186.8 364.8 185.3 364 184.5C363.2 183.7 363.2 183.9 363.4 182.3C363.6 180.7 364 177.1 365 174.8C366 172.5 367.5 170.5 369.2 168.4C370.9 166.3 373.8 164.1 375 162C376.2 159.9 376.6 157.9 376.5 155.6C376.4 153.3 375.4 150.5 374.5 148C373.6 145.5 371.8 143.3 371 140.6C370.2 137.9 369.5 134.6 369.5 132Z"/></clipPath>
<path d="M369.5 132C369.5 129.4 370.1 127 371 125C371.9 123 373.1 121.7 374.6 120.3C376.1 118.9 378.2 117.4 380 116.5C381.8 115.6 383.5 115.2 385.3 115C387.1 114.8 389.1 115.1 391 115.5C392.9 115.9 394.8 117.2 397 117.5C399.2 117.8 401.8 117.3 404 117C406.2 116.7 407.3 115.9 410 115.5C412.7 115.1 417 114.8 420 114.5C423 114.2 425.8 113.6 428 114C430.2 114.4 431.9 115.2 433.3 117C434.7 118.8 435.6 122.1 436.5 124.6C437.4 127.1 438.5 129 438.7 132C438.9 135 438.1 139.7 437.6 142.7C437.1 145.7 435.5 147.3 435.5 150.2C435.5 153 436.5 156.8 437.6 159.8C438.7 162.8 440.5 165.6 441.9 168.4C443.3 171.2 445.4 174.2 446.2 176.9C447 179.6 447.1 182.4 446.7 184.4C446.3 186.4 445.8 187.9 444 188.7C442.2 189.5 439.2 189 436 189C432.8 189 429.3 189.3 425 188.6C420.7 187.8 413.6 186.1 410 184.5C406.4 182.9 405.9 180.8 403.4 179C400.9 177.2 397.9 174 394.9 173.7C391.9 173.4 388.3 175 385.3 177C382.3 179 379.6 183.8 376.7 185.5C373.8 187.2 370.1 187.2 368 187C365.9 186.8 364.8 185.3 364 184.5C363.2 183.7 363.2 183.9 363.4 182.3C363.6 180.7 364 177.1 365 174.8C366 172.5 367.5 170.5 369.2 168.4C370.9 166.3 373.8 164.1 375 162C376.2 159.9 376.6 157.9 376.5 155.6C376.4 153.3 375.4 150.5 374.5 148C373.6 145.5 371.8 143.3 371 140.6C370.2 137.9 369.5 134.6 369.5 132Z" fill="#c2d2d6"/>
<g clip-path="url(#c_cuL)">
<path d="M372 122C375.5 118.3 386.8 115.7 392 116C397.2 116.3 401.2 118.3 403 124C404.8 129.7 404.2 144 403 150C401.8 156 399.8 159.3 396 160C392.2 160.7 384.2 157.7 380 154C375.8 150.3 372.3 143.3 371 138C369.7 132.7 368.5 125.7 372 122Z" fill="#93b0b6" opacity="0.85" filter="url(#b3)"/>
<path d="M382 124C383.8 121.2 391 119.3 394 121C397 122.7 399.3 129.8 400 134C400.7 138.2 399.7 143.7 398 146C396.3 148.3 392.5 149.3 390 148C387.5 146.7 384.3 142 383 138C381.7 134 380.2 126.8 382 124Z" fill="#84a4ab" opacity="0.6" filter="url(#b2)"/>
<path d="M406 126C410.5 121 426.8 117.7 432 120C437.2 122.3 436.7 134.7 437 140C437.3 145.3 433.5 147 434 152C434.5 157 440.7 165.7 440 170C439.3 174.3 435.3 178 430 178C424.7 178 412.2 174.7 408 170C403.8 165.3 405.3 157.3 405 150C404.7 142.7 401.5 131 406 126Z" fill="#e6edec" opacity="0.95" filter="url(#b2)"/>
<path d="M403 118C404.5 114.7 408.7 114.7 410 120C411.3 125.3 411.8 142 411 150C410.2 158 407 166.3 405 168C403 169.7 399.7 164.7 399 160C398.3 155.3 400.3 147 401 140C401.7 133 401.5 121.3 403 118Z" fill="#f0f4f3" opacity="0.6" filter="url(#b2)"/>
<path d="M366 172C368 168.7 373.7 164.7 378 164C382.3 163.3 390 166 392 168C394 170 392.3 173.3 390 176C387.7 178.7 382 182.7 378 184C374 185.3 368 186 366 184C364 182 364 175.3 366 172Z" fill="#ccdade" opacity="0.9" filter="url(#b1)"/>
<path d="M408 176C414 174.7 439.7 176 446 178C452.3 180 452 186.7 446 188C440 189.3 416.3 188 410 186C403.7 184 402 177.3 408 176Z" fill="#eef2f1" opacity="0.95" filter="url(#b1)"/>
<path d="M425 115C426.5 116.2 432 118.5 434 122C436 125.5 436.5 133.7 437 136" fill="none" stroke="#b9cbce" stroke-width="2.5" stroke-linecap="round" opacity="0.8" filter="url(#b1)"/>
<path d="M369.5 132C369.5 129.4 370.1 127 371 125C371.9 123 373.1 121.7 374.6 120.3C376.1 118.9 378.2 117.4 380 116.5C381.8 115.6 383.5 115.2 385.3 115C387.1 114.8 389.1 115.1 391 115.5C392.9 115.9 394.8 117.2 397 117.5C399.2 117.8 401.8 117.3 404 117C406.2 116.7 407.3 115.9 410 115.5C412.7 115.1 417 114.8 420 114.5C423 114.2 425.8 113.6 428 114C430.2 114.4 431.9 115.2 433.3 117C434.7 118.8 435.6 122.1 436.5 124.6C437.4 127.1 438.5 129 438.7 132C438.9 135 438.1 139.7 437.6 142.7C437.1 145.7 435.5 147.3 435.5 150.2C435.5 153 436.5 156.8 437.6 159.8C438.7 162.8 440.5 165.6 441.9 168.4C443.3 171.2 445.4 174.2 446.2 176.9C447 179.6 447.1 182.4 446.7 184.4C446.3 186.4 445.8 187.9 444 188.7C442.2 189.5 439.2 189 436 189C432.8 189 429.3 189.3 425 188.6C420.7 187.8 413.6 186.1 410 184.5C406.4 182.9 405.9 180.8 403.4 179C400.9 177.2 397.9 174 394.9 173.7C391.9 173.4 388.3 175 385.3 177C382.3 179 379.6 183.8 376.7 185.5C373.8 187.2 370.1 187.2 368 187C365.9 186.8 364.8 185.3 364 184.5C363.2 183.7 363.2 183.9 363.4 182.3C363.6 180.7 364 177.1 365 174.8C366 172.5 367.5 170.5 369.2 168.4C370.9 166.3 373.8 164.1 375 162C376.2 159.9 376.6 157.9 376.5 155.6C376.4 153.3 375.4 150.5 374.5 148C373.6 145.5 371.8 143.3 371 140.6C370.2 137.9 369.5 134.6 369.5 132Z" fill="none" stroke="#8ba6ad" stroke-width="3.4" opacity=".8" filter="url(#b1)"/>
</g>
<path d="M383 739C382.5 741.1 382.2 746.5 385 749C387.8 751.5 394.8 752.5 400 754C405.2 755.5 412.8 755.6 416 758C419.2 760.4 417.3 766.5 419 768.5C420.7 770.5 424 771.4 426 770C428 768.6 429.6 763.7 431 760C432.4 756.3 434.3 751 434.5 748C434.7 745 434.8 742.5 432 742C429.2 741.5 423.3 745.2 418 745C412.7 744.8 405 742.4 400 741C395 739.6 390.8 736.8 388 736.5C385.2 736.2 383.5 736.9 383 739Z" fill="#a6c8d6"/><path d="M383 739C382.5 741.1 382.2 746.5 385 749C387.8 751.5 394.8 752.5 400 754C405.2 755.5 412.8 755.6 416 758C419.2 760.4 417.3 766.5 419 768.5C420.7 770.5 424 771.4 426 770C428 768.6 429.6 763.7 431 760C432.4 756.3 434.3 751 434.5 748C434.7 745 434.8 742.5 432 742C429.2 741.5 423.3 745.2 418 745C412.7 744.8 405 742.4 400 741C395 739.6 390.8 736.8 388 736.5C385.2 736.2 383.5 736.9 383 739Z" fill="none" stroke="#7fa9bb" stroke-width="1.2" opacity=".8" filter="url(#b1)"/>
<path d="M379.5 205C380.9 201.8 383.3 201.8 383.5 205C383.7 208.2 381.4 217.2 380.5 224C379.6 230.8 378.6 238.8 378 246C377.4 253.2 377.1 259.8 377 267C376.9 274.2 378 283.3 377.5 289C377 294.7 375.2 297.6 374 301C372.8 304.4 372.2 305.8 370.4 309.4C368.6 313 365.7 317.4 363.4 322.6C361.1 327.8 358.6 336.8 356.4 340.5C354.2 344.2 352 345.4 350 345C348 344.6 345.4 341.3 344.5 338C343.6 334.7 344 329.1 344.8 325C345.6 320.9 347.7 317 349.4 313.3C351.1 309.6 352.9 307.1 355 303C357.1 298.9 360 295 362 289C364 283 365.6 274.2 367 267C368.4 259.8 369.2 253.2 370.5 246C371.8 238.8 373.5 230.8 375 224C376.5 217.2 378.1 208.2 379.5 205Z" fill="#a9bdc4"/>
<path d="M381 207C380.2 212.5 377.5 228.7 376 240C374.5 251.3 373.7 265 372 275C370.3 285 369 292.2 366 300C363 307.8 356 318.3 354 322" fill="none" stroke="#e8eff0" stroke-width="1.6" stroke-linecap="round" opacity="0.8" filter="url(#b1)"/>
<clipPath id="c_rL"><path d="M311.6 201.8C311.6 199.9 312.3 197.9 313 196.5C313.7 195.1 313.3 194.2 316 193.1C318.7 192 324.5 190.8 329.1 190.2C333.7 189.6 338.9 189.3 343.7 189.5C348.5 189.7 354.6 190.5 358.2 191.6C361.8 192.7 364 193.8 365.5 196C367 198.2 367 202.7 367 204.8C367 206.9 366 207.2 365.5 208.4C365 209.6 364.7 209.4 364 212C363.3 214.6 361.9 219.3 361.2 223.7C360.5 228.1 359.7 233.8 359.7 238.2C359.7 242.6 360.7 246 361.2 249.9C361.7 253.8 362.6 257.1 362.6 261.5C362.6 265.9 361.9 271.2 361.2 276.1C360.5 281 359.4 286.1 358.2 290.7C357 295.3 355.4 300 353.9 303.8C352.4 307.6 350.9 309.8 349.4 313.3C347.9 316.8 345.7 321.1 344.8 325C343.9 328.9 343.9 332.1 344 336.6C344.1 341.1 344.9 346.8 345.5 352C346.1 357.2 347.3 360.4 347.9 367.7C348.5 375 349 384.6 349 396C349 407.4 348.3 422.7 348 436C347.7 449.3 347.3 465 347 476C346.7 487 346.5 493 346 502C345.5 511 344.7 520 344 530C343.3 540 342 550 342 562C342 574 343 588.7 344 602C345 615.3 346 630.3 348 642C350 653.7 353.3 662 356 672C358.7 682 362 695.3 364 702C366 708.7 366.7 707.3 368 712C369.3 716.7 369.7 725.5 372 730C374.3 734.5 380 735.3 382 739C384 742.7 385 748.8 384 752C383 755.2 380 756.7 376 758C372 759.3 366 758.7 360 760C354 761.3 346.7 763 340 766C333.3 769 326.3 773.5 320 778C313.7 782.5 306 791.3 302 793C298 794.7 297.8 791.8 296 788C294.2 784.2 292.2 776.3 291.5 770C290.8 763.7 290.8 758.3 291.5 750C292.2 741.7 294.2 731.7 296 720C297.8 708.3 300.7 693.3 302 680C303.3 666.7 303.5 649.7 304 640C304.5 630.3 304.7 635 305 622C305.3 609 306 582 306 562C306 542 304.7 519.7 305 502C305.3 484.3 307 470.3 308 456C309 441.7 310.2 429.3 311 416C311.8 402.7 312.2 389.3 313 376C313.8 362.7 315.2 344.4 316 336C316.8 327.6 317.1 332.2 317.5 325.6C317.9 319 318.1 306.2 318.2 296.5C318.3 286.8 318.1 274.7 318.2 267.4C318.3 260.1 318.5 257.7 318.9 252.8C319.3 247.9 320.5 243 320.4 238.2C320.3 233.3 319.2 228.3 318.2 223.7C317.2 219.1 315.5 213.3 314.6 210.6C313.8 207.9 313.6 209.2 313.1 207.7C312.6 206.2 311.6 203.7 311.6 201.8Z"/></clipPath>
<path d="M311.6 201.8C311.6 199.9 312.3 197.9 313 196.5C313.7 195.1 313.3 194.2 316 193.1C318.7 192 324.5 190.8 329.1 190.2C333.7 189.6 338.9 189.3 343.7 189.5C348.5 189.7 354.6 190.5 358.2 191.6C361.8 192.7 364 193.8 365.5 196C367 198.2 367 202.7 367 204.8C367 206.9 366 207.2 365.5 208.4C365 209.6 364.7 209.4 364 212C363.3 214.6 361.9 219.3 361.2 223.7C360.5 228.1 359.7 233.8 359.7 238.2C359.7 242.6 360.7 246 361.2 249.9C361.7 253.8 362.6 257.1 362.6 261.5C362.6 265.9 361.9 271.2 361.2 276.1C360.5 281 359.4 286.1 358.2 290.7C357 295.3 355.4 300 353.9 303.8C352.4 307.6 350.9 309.8 349.4 313.3C347.9 316.8 345.7 321.1 344.8 325C343.9 328.9 343.9 332.1 344 336.6C344.1 341.1 344.9 346.8 345.5 352C346.1 357.2 347.3 360.4 347.9 367.7C348.5 375 349 384.6 349 396C349 407.4 348.3 422.7 348 436C347.7 449.3 347.3 465 347 476C346.7 487 346.5 493 346 502C345.5 511 344.7 520 344 530C343.3 540 342 550 342 562C342 574 343 588.7 344 602C345 615.3 346 630.3 348 642C350 653.7 353.3 662 356 672C358.7 682 362 695.3 364 702C366 708.7 366.7 707.3 368 712C369.3 716.7 369.7 725.5 372 730C374.3 734.5 380 735.3 382 739C384 742.7 385 748.8 384 752C383 755.2 380 756.7 376 758C372 759.3 366 758.7 360 760C354 761.3 346.7 763 340 766C333.3 769 326.3 773.5 320 778C313.7 782.5 306 791.3 302 793C298 794.7 297.8 791.8 296 788C294.2 784.2 292.2 776.3 291.5 770C290.8 763.7 290.8 758.3 291.5 750C292.2 741.7 294.2 731.7 296 720C297.8 708.3 300.7 693.3 302 680C303.3 666.7 303.5 649.7 304 640C304.5 630.3 304.7 635 305 622C305.3 609 306 582 306 562C306 542 304.7 519.7 305 502C305.3 484.3 307 470.3 308 456C309 441.7 310.2 429.3 311 416C311.8 402.7 312.2 389.3 313 376C313.8 362.7 315.2 344.4 316 336C316.8 327.6 317.1 332.2 317.5 325.6C317.9 319 318.1 306.2 318.2 296.5C318.3 286.8 318.1 274.7 318.2 267.4C318.3 260.1 318.5 257.7 318.9 252.8C319.3 247.9 320.5 243 320.4 238.2C320.3 233.3 319.2 228.3 318.2 223.7C317.2 219.1 315.5 213.3 314.6 210.6C313.8 207.9 313.6 209.2 313.1 207.7C312.6 206.2 311.6 203.7 311.6 201.8Z" fill="#e4bf83"/>
<g clip-path="url(#c_rL)">
<rect x="287.5" y="185.5" width="100.5" height="611.5" filter="url(#grainD)" opacity=".45"/>
<rect x="287.5" y="185.5" width="100.5" height="611.5" filter="url(#grainL)" opacity=".38"/>
<linearGradient id="mg_rL" gradientUnits="userSpaceOnUse" x1="0" y1="255" x2="0" y2="330"><stop offset="0" stop-color="#fff"/><stop offset="1" stop-color="#000"/></linearGradient>
<mask id="mk_rL" maskUnits="userSpaceOnUse" x="305" y="185" width="68" height="150"><rect x="305" y="185" width="68" height="150" fill="url(#mg_rL)"/></mask>
<g mask="url(#mk_rL)" opacity="0.8">
<rect x="305" y="185" width="68" height="150" fill="#c8a262" opacity=".85"/>
<rect x="305" y="185" width="68" height="150" filter="url(#mottD)"/>
<rect x="305" y="185" width="68" height="150" filter="url(#mottL)"/>
</g>
<path d="M313 208C321.3 206.7 357.5 207.3 366 209C374.5 210.7 368.3 216 364 218C359.7 220 348 221.2 340 221C332 220.8 320.5 219.2 316 217C311.5 214.8 304.7 209.3 313 208Z" fill="#94703a" opacity="0.6" filter="url(#b1)"/>
<path d="M314 215C314.7 210 320.3 210.8 322 215C323.7 219.2 324.2 228.3 324 240C323.8 251.7 322.2 277.5 321 285C319.8 292.5 317.5 291.7 317 285C316.5 278.3 318.5 256.7 318 245C317.5 233.3 313.3 220 314 215Z" fill="#94703a" opacity="0.55" filter="url(#b2)"/>
<path d="M349 216C349.2 218.7 350 227 350 232C350 237 349.2 243.7 349 246" fill="none" stroke="#f3e7cb" stroke-width="8" stroke-linecap="round" opacity="0.85" filter="url(#b2)"/>
<path d="M314 212C316.3 206.5 330.3 205.7 334 212C337.7 218.3 336.7 237 336 250C335.3 263 333 283.3 330 290C327 296.7 319.7 297.5 318 290C316.3 282.5 320.7 258 320 245C319.3 232 311.7 217.5 314 212Z" fill="#a88042" opacity="0.55" filter="url(#b2)"/>
<g transform="translate(349 268) rotate(0)">
<ellipse cx="0" cy="0" rx="10.3" ry="23.1" fill="#a17a3b" opacity=".45" filter="url(#tb2)"/>
<path d="M-1.8 -17.8C6.3 -16.8 8.1 4.2 1.8 16.8C-5.4 18.9 -8.1 -6.3 -1.8 -17.8Z" fill="#e8d3a4" opacity=".8" filter="url(#tb1)"/>
<ellipse cx="-2.7" cy="-9.5" rx="2.7" ry="4.2" fill="#f7eed8" opacity=".85" filter="url(#tb1)"/>
<ellipse cx="1.8" cy="5.2" rx="2.5" ry="4.2" fill="#f7eed8" opacity=".8" filter="url(#tb1)"/>
<ellipse cx="-3.6" cy="4.2" rx="1.8" ry="5.2" fill="#f4e8cb" opacity=".7" filter="url(#tb1)"/>
<ellipse cx="0.5" cy="-2.1" rx="2.2" ry="2.5" fill="#b08a4c" opacity=".6" filter="url(#tb1)"/>
<ellipse cx="-0.9" cy="11.6" rx="2.7" ry="2.1" fill="#b08a4c" opacity=".55" filter="url(#tb1)"/>
<path d="M2.7 -18.9C11.7 -8.4 11.2 14.7 -2.7 21" fill="none" stroke="#7f5c28" stroke-width="2.4" opacity=".75" filter="url(#tb1)"/>
<path d="M-5.4 -16.8C-9.5 -6.3 -9 8.4 -5.4 17.8" fill="none" stroke="#a37b3c" stroke-width="1.6" opacity=".6" filter="url(#tb1)"/>
</g>
<path d="M329.5 320C328.6 324.1 326.3 335.7 325 344.9C323.7 354 322.3 364.1 321.5 374.9C320.7 385.7 320.7 392.4 320 409.8C319.3 427.3 318.3 454.8 317.5 479.8C316.8 504.8 315.8 533.2 315.5 559.9C315.2 586.6 314.8 616.7 315.5 640.1C316.2 663.5 318 684.3 319.5 700.1C321 715.9 323.2 729.2 324.5 735C325.8 740.8 326.2 740.9 327.5 735C328.8 729.1 331.7 715.7 332.5 699.9C333.3 684 332.5 663.2 332.5 639.9C332.5 616.6 332.2 586.7 332.5 560.1C332.8 533.5 333.9 505.2 334.5 480.2C335.1 455.2 336 427.7 336 410.2C336 392.6 335 385.9 334.5 375.1C334 364.3 333.7 354.3 333 345.1C332.3 336 331.1 324.2 330.5 320C329.9 315.8 330.4 315.8 329.5 320Z" fill="#faf1dc" opacity="1" filter="url(#b2)"/>
<path d="M340 330C339.8 341.7 339.5 376.7 339 400C338.5 423.3 337.7 446.7 337 470C336.3 493.3 335.3 528.3 335 540" fill="none" stroke="#caa060" stroke-width="2.2" stroke-linecap="round" opacity="0.5" filter="url(#b1)"/>
<path d="M316 340C315.5 353.3 314 393.3 313 420C312 446.7 310.7 470 310 500C309.3 530 309.2 583.3 309 600" fill="none" stroke="#d5ae6e" stroke-width="2.5" stroke-linecap="round" opacity="0.5" filter="url(#b1)"/>
<path d="M343 590C344.2 600 346.8 631.7 350 650C353.2 668.3 358.7 687.5 362 700C365.3 712.5 368.7 720.8 370 725" fill="none" stroke="#f5ead3" stroke-width="3" stroke-linecap="round" opacity="0.6" filter="url(#b1)"/>
<path d="M294 738C300 731 318 726.5 330 726C342 725.5 357.7 731 366 735C374.3 739 384.3 745.5 380 750C375.7 754.5 351.7 757.3 340 762C328.3 766.7 317.7 777 310 778C302.3 779 296.7 774.7 294 768C291.3 761.3 288 745 294 738Z" fill="#fbf6ea" opacity="0.85" filter="url(#b2)"/>
<path d="M298 750C301 751 309 755.7 316 756C323 756.3 331.7 754 340 752C348.3 750 361.7 745.3 366 744" fill="none" stroke="#c39a59" stroke-width="1.5" stroke-linecap="round" opacity="0.55" filter="url(#b1)"/>
<path d="M294 752C295.5 748.3 300.3 747 302 750C303.7 753 304.7 764.3 304 770C303.3 775.7 299.8 783.7 298 784C296.2 784.3 293.7 777.3 293 772C292.3 766.7 292.5 755.7 294 752Z" fill="#d9b272" opacity="0.6" filter="url(#b1)"/>
<path d="M322 690C322.7 695 324.3 710.8 326 720C327.7 729.2 331 740.8 332 745" fill="none" stroke="#c9a061" stroke-width="2" stroke-linecap="round" opacity="0.5" filter="url(#b1)"/>
<path d="M345 700C346.2 705 349.2 722 352 730C354.8 738 360.3 745 362 748" fill="none" stroke="#c9a061" stroke-width="2" stroke-linecap="round" opacity="0.45" filter="url(#b1)"/>
<path d="M311.6 201.8C311.6 199.9 312.3 197.9 313 196.5C313.7 195.1 313.3 194.2 316 193.1C318.7 192 324.5 190.8 329.1 190.2C333.7 189.6 338.9 189.3 343.7 189.5C348.5 189.7 354.6 190.5 358.2 191.6C361.8 192.7 364 193.8 365.5 196C367 198.2 367 202.7 367 204.8C367 206.9 366 207.2 365.5 208.4C365 209.6 364.7 209.4 364 212C363.3 214.6 361.9 219.3 361.2 223.7C360.5 228.1 359.7 233.8 359.7 238.2C359.7 242.6 360.7 246 361.2 249.9C361.7 253.8 362.6 257.1 362.6 261.5C362.6 265.9 361.9 271.2 361.2 276.1C360.5 281 359.4 286.1 358.2 290.7C357 295.3 355.4 300 353.9 303.8C352.4 307.6 350.9 309.8 349.4 313.3C347.9 316.8 345.7 321.1 344.8 325C343.9 328.9 343.9 332.1 344 336.6C344.1 341.1 344.9 346.8 345.5 352C346.1 357.2 347.3 360.4 347.9 367.7C348.5 375 349 384.6 349 396C349 407.4 348.3 422.7 348 436C347.7 449.3 347.3 465 347 476C346.7 487 346.5 493 346 502C345.5 511 344.7 520 344 530C343.3 540 342 550 342 562C342 574 343 588.7 344 602C345 615.3 346 630.3 348 642C350 653.7 353.3 662 356 672C358.7 682 362 695.3 364 702C366 708.7 366.7 707.3 368 712C369.3 716.7 369.7 725.5 372 730C374.3 734.5 380 735.3 382 739C384 742.7 385 748.8 384 752C383 755.2 380 756.7 376 758C372 759.3 366 758.7 360 760C354 761.3 346.7 763 340 766C333.3 769 326.3 773.5 320 778C313.7 782.5 306 791.3 302 793C298 794.7 297.8 791.8 296 788C294.2 784.2 292.2 776.3 291.5 770C290.8 763.7 290.8 758.3 291.5 750C292.2 741.7 294.2 731.7 296 720C297.8 708.3 300.7 693.3 302 680C303.3 666.7 303.5 649.7 304 640C304.5 630.3 304.7 635 305 622C305.3 609 306 582 306 562C306 542 304.7 519.7 305 502C305.3 484.3 307 470.3 308 456C309 441.7 310.2 429.3 311 416C311.8 402.7 312.2 389.3 313 376C313.8 362.7 315.2 344.4 316 336C316.8 327.6 317.1 332.2 317.5 325.6C317.9 319 318.1 306.2 318.2 296.5C318.3 286.8 318.1 274.7 318.2 267.4C318.3 260.1 318.5 257.7 318.9 252.8C319.3 247.9 320.5 243 320.4 238.2C320.3 233.3 319.2 228.3 318.2 223.7C317.2 219.1 315.5 213.3 314.6 210.6C313.8 207.9 313.6 209.2 313.1 207.7C312.6 206.2 311.6 203.7 311.6 201.8Z" fill="none" stroke="#cfa565" stroke-width="7" opacity=".7" filter="url(#b2)"/>
<path d="M311.6 201.8C311.6 199.9 312.3 197.9 313 196.5C313.7 195.1 313.3 194.2 316 193.1C318.7 192 324.5 190.8 329.1 190.2C333.7 189.6 338.9 189.3 343.7 189.5C348.5 189.7 354.6 190.5 358.2 191.6C361.8 192.7 364 193.8 365.5 196C367 198.2 367 202.7 367 204.8C367 206.9 366 207.2 365.5 208.4C365 209.6 364.7 209.4 364 212C363.3 214.6 361.9 219.3 361.2 223.7C360.5 228.1 359.7 233.8 359.7 238.2C359.7 242.6 360.7 246 361.2 249.9C361.7 253.8 362.6 257.1 362.6 261.5C362.6 265.9 361.9 271.2 361.2 276.1C360.5 281 359.4 286.1 358.2 290.7C357 295.3 355.4 300 353.9 303.8C352.4 307.6 350.9 309.8 349.4 313.3C347.9 316.8 345.7 321.1 344.8 325C343.9 328.9 343.9 332.1 344 336.6C344.1 341.1 344.9 346.8 345.5 352C346.1 357.2 347.3 360.4 347.9 367.7C348.5 375 349 384.6 349 396C349 407.4 348.3 422.7 348 436C347.7 449.3 347.3 465 347 476C346.7 487 346.5 493 346 502C345.5 511 344.7 520 344 530C343.3 540 342 550 342 562C342 574 343 588.7 344 602C345 615.3 346 630.3 348 642C350 653.7 353.3 662 356 672C358.7 682 362 695.3 364 702C366 708.7 366.7 707.3 368 712C369.3 716.7 369.7 725.5 372 730C374.3 734.5 380 735.3 382 739C384 742.7 385 748.8 384 752C383 755.2 380 756.7 376 758C372 759.3 366 758.7 360 760C354 761.3 346.7 763 340 766C333.3 769 326.3 773.5 320 778C313.7 782.5 306 791.3 302 793C298 794.7 297.8 791.8 296 788C294.2 784.2 292.2 776.3 291.5 770C290.8 763.7 290.8 758.3 291.5 750C292.2 741.7 294.2 731.7 296 720C297.8 708.3 300.7 693.3 302 680C303.3 666.7 303.5 649.7 304 640C304.5 630.3 304.7 635 305 622C305.3 609 306 582 306 562C306 542 304.7 519.7 305 502C305.3 484.3 307 470.3 308 456C309 441.7 310.2 429.3 311 416C311.8 402.7 312.2 389.3 313 376C313.8 362.7 315.2 344.4 316 336C316.8 327.6 317.1 332.2 317.5 325.6C317.9 319 318.1 306.2 318.2 296.5C318.3 286.8 318.1 274.7 318.2 267.4C318.3 260.1 318.5 257.7 318.9 252.8C319.3 247.9 320.5 243 320.4 238.2C320.3 233.3 319.2 228.3 318.2 223.7C317.2 219.1 315.5 213.3 314.6 210.6C313.8 207.9 313.6 209.2 313.1 207.7C312.6 206.2 311.6 203.7 311.6 201.8Z" fill="none" stroke="#b1894a" stroke-width="2" opacity=".8" filter="url(#b1)"/>
</g>
<clipPath id="c_crL"><path d="M311.6 201.8C311.6 199.9 312.3 197.9 313 196.5C313.7 195.1 313.3 194.2 316 193.1C318.7 192 324.5 190.8 329.1 190.2C333.7 189.6 338.9 189.3 343.7 189.5C348.5 189.7 354.6 190.5 358.2 191.6C361.8 192.7 364 193.8 365.5 196C367 198.2 367 202.7 367 204.8C367 206.9 367 207.6 365.5 208.4C364 209.2 361.3 209.3 358.2 209.9C355.1 210.5 350.2 212.1 346.6 212C343 211.9 339.8 209.9 336.4 209.1C333 208.3 330.1 207.2 326.2 207C322.3 206.8 315.5 208.6 313.1 207.7C310.7 206.8 311.6 203.7 311.6 201.8Z"/></clipPath>
<path d="M311.6 201.8C311.6 199.9 312.3 197.9 313 196.5C313.7 195.1 313.3 194.2 316 193.1C318.7 192 324.5 190.8 329.1 190.2C333.7 189.6 338.9 189.3 343.7 189.5C348.5 189.7 354.6 190.5 358.2 191.6C361.8 192.7 364 193.8 365.5 196C367 198.2 367 202.7 367 204.8C367 206.9 367 207.6 365.5 208.4C364 209.2 361.3 209.3 358.2 209.9C355.1 210.5 350.2 212.1 346.6 212C343 211.9 339.8 209.9 336.4 209.1C333 208.3 330.1 207.2 326.2 207C322.3 206.8 315.5 208.6 313.1 207.7C310.7 206.8 311.6 203.7 311.6 201.8Z" fill="#c6d4d7"/>
<g clip-path="url(#c_crL)">
<path d="M316 196C317.7 194.2 332.3 192.7 340 192.5C347.7 192.3 357.8 193.6 362 195C366.2 196.4 367 199.3 365 201C363 202.7 355.8 204.7 350 205C344.2 205.3 335.7 204.5 330 203C324.3 201.5 314.3 197.8 316 196Z" fill="#dde6e7" opacity="0.95" filter="url(#b1)"/>
<path d="M330 201C332.7 200.5 340.7 203.7 346 204C351.3 204.3 359 202.3 362 203C365 203.7 366.7 206.7 364 208C361.3 209.3 351.7 211.2 346 211C340.3 210.8 332.7 208.7 330 207C327.3 205.3 327.3 201.5 330 201Z" fill="#f1f4f3" opacity="0.9" filter="url(#b1)"/>
<path d="M314 196.5C316.3 195.8 323 192.9 328 192C333 191.1 338.7 190.8 344 191C349.3 191.2 357.3 192.7 360 193" fill="none" stroke="#93a8ae" stroke-width="1.3" stroke-linecap="round" opacity="0.8" filter="url(#b1)"/>
<path d="M311 198C311.8 196.2 316.5 195.5 318 197C319.5 198.5 320.8 205.2 320 207C319.2 208.8 314.5 209.5 313 208C311.5 206.5 310.2 199.8 311 198Z" fill="#9db3b9" opacity="0.8" filter="url(#b1)"/>
<path d="M311.6 201.8C311.6 199.9 312.3 197.9 313 196.5C313.7 195.1 313.3 194.2 316 193.1C318.7 192 324.5 190.8 329.1 190.2C333.7 189.6 338.9 189.3 343.7 189.5C348.5 189.7 354.6 190.5 358.2 191.6C361.8 192.7 364 193.8 365.5 196C367 198.2 367 202.7 367 204.8C367 206.9 367 207.6 365.5 208.4C364 209.2 361.3 209.3 358.2 209.9C355.1 210.5 350.2 212.1 346.6 212C343 211.9 339.8 209.9 336.4 209.1C333 208.3 330.1 207.2 326.2 207C322.3 206.8 315.5 208.6 313.1 207.7C310.7 206.8 311.6 203.7 311.6 201.8Z" fill="none" stroke="#a9bcc1" stroke-width="3.4" opacity=".8" filter="url(#b1)"/>
</g>
<path d="M302.5 787C302 788.8 302.1 792.9 305 791.5C307.9 790.1 314.2 782.8 320 778.5C325.8 774.2 333.3 769.1 340 766C346.7 762.9 354 761.3 360 760C366 758.7 372 759.3 376 758C380 756.7 382.9 755.2 384 752C385.1 748.8 383.8 740.2 382.5 739C381.2 737.8 379.8 743 376 745C372.2 747 366 748.9 360 751C354 753.1 346.3 754.6 340 757.5C333.7 760.4 327.3 764.6 322 768.5C316.7 772.4 311.2 777.9 308 781C304.8 784.1 303 785.2 302.5 787Z" fill="#a6c8d6"/><path d="M302.5 787C302 788.8 302.1 792.9 305 791.5C307.9 790.1 314.2 782.8 320 778.5C325.8 774.2 333.3 769.1 340 766C346.7 762.9 354 761.3 360 760C366 758.7 372 759.3 376 758C380 756.7 382.9 755.2 384 752C385.1 748.8 383.8 740.2 382.5 739C381.2 737.8 379.8 743 376 745C372.2 747 366 748.9 360 751C354 753.1 346.3 754.6 340 757.5C333.7 760.4 327.3 764.6 322 768.5C316.7 772.4 311.2 777.9 308 781C304.8 784.1 303 785.2 302.5 787Z" fill="none" stroke="#7fa9bb" stroke-width="1.2" opacity=".8" filter="url(#b1)"/>
</g>
<g id="figR" filter="url(#art)">
<clipPath id="c_uR"><path d="M696 123C696.4 119.2 696.9 117.8 697.5 116C698.1 114.2 698.6 113.2 699.9 112.1C701.1 111 703.2 110.2 705 109.5C706.8 108.8 708.6 108.3 710.8 108.2C713 108.1 715.4 108.7 718 109C720.6 109.3 724 110 726.3 109.8C728.6 109.5 729.9 108.2 732 107.5C734.1 106.8 736.4 106.1 738.7 105.9C741 105.7 743.7 106.1 746 106.5C748.3 106.9 750.9 107.2 752.7 108.2C754.5 109.2 755.7 110.8 757 112.5C758.3 114.2 759.1 114.8 760.5 118.3C761.9 121.8 764.2 129.1 765.1 133.8C766 138.5 766.1 141.9 765.9 146.3C765.6 150.7 763 155.8 763.6 160.2C764.2 164.6 768 169.1 769.8 172.7C771.6 176.3 774 179.4 774.5 182C775 184.6 774 185.2 772.9 188.2C771.8 191.2 769.5 196.4 768 200C766.5 203.6 766 205 764 210C762 215 758.1 221.5 756 230C753.9 238.5 752.3 250.7 751.2 261C750.1 271.3 750.4 282.9 749.6 292C748.8 301.1 747.5 307.6 746.5 315.4C745.5 323.2 744.4 330.9 743.4 338.7C742.4 346.5 741.2 353.4 740.3 362C739.4 370.6 738.7 382.3 738 390C737.3 397.7 736.7 389.7 736 408C735.3 426.3 735.3 468 734 500C732.7 532 730 570 728 600C726 630 724 660 722 680C720 700 717.7 709.3 716 720C714.3 730.7 713 738.7 712 744C711 749.3 710.7 748.7 710 752C709.3 755.3 710.3 762 708 764C705.7 766 698.3 766.3 696 764C693.7 761.7 696.7 752.7 694 750C691.3 747.3 684.7 749 680 748C675.3 747 669 746.7 666 744C663 741.3 662 736 662 732C662 728 664.3 727 666 720C667.7 713 670 699.7 672 690C674 680.3 676.3 673.3 678 662C679.7 650.7 681 635.3 682 622C683 608.7 683.5 595.3 684 582C684.5 568.7 684.7 555.3 685 542C685.3 528.7 685.7 519.7 686 502C686.3 484.3 686.7 453 687 436C687.3 419 686.8 414.3 688 400C689.2 385.7 691.7 367.3 694 350C696.3 332.7 701 312.7 702 296C703 279.3 700.7 261 700 250C699.3 239 699.3 239.3 698 230C696.7 220.7 693.2 201.9 692.1 194.4C691 186.9 691.5 187.1 691.4 185C691.3 182.9 690.8 183.8 691.4 182C692 180.2 693.8 177.3 695.2 174.2C696.6 171.1 699.4 166.7 699.9 163.3C700.4 159.9 699.2 158.1 698.4 154C697.6 149.9 695.6 143.7 695.2 138.5C694.8 133.3 695.6 126.8 696 123Z"/></clipPath>
<path d="M696 123C696.4 119.2 696.9 117.8 697.5 116C698.1 114.2 698.6 113.2 699.9 112.1C701.1 111 703.2 110.2 705 109.5C706.8 108.8 708.6 108.3 710.8 108.2C713 108.1 715.4 108.7 718 109C720.6 109.3 724 110 726.3 109.8C728.6 109.5 729.9 108.2 732 107.5C734.1 106.8 736.4 106.1 738.7 105.9C741 105.7 743.7 106.1 746 106.5C748.3 106.9 750.9 107.2 752.7 108.2C754.5 109.2 755.7 110.8 757 112.5C758.3 114.2 759.1 114.8 760.5 118.3C761.9 121.8 764.2 129.1 765.1 133.8C766 138.5 766.1 141.9 765.9 146.3C765.6 150.7 763 155.8 763.6 160.2C764.2 164.6 768 169.1 769.8 172.7C771.6 176.3 774 179.4 774.5 182C775 184.6 774 185.2 772.9 188.2C771.8 191.2 769.5 196.4 768 200C766.5 203.6 766 205 764 210C762 215 758.1 221.5 756 230C753.9 238.5 752.3 250.7 751.2 261C750.1 271.3 750.4 282.9 749.6 292C748.8 301.1 747.5 307.6 746.5 315.4C745.5 323.2 744.4 330.9 743.4 338.7C742.4 346.5 741.2 353.4 740.3 362C739.4 370.6 738.7 382.3 738 390C737.3 397.7 736.7 389.7 736 408C735.3 426.3 735.3 468 734 500C732.7 532 730 570 728 600C726 630 724 660 722 680C720 700 717.7 709.3 716 720C714.3 730.7 713 738.7 712 744C711 749.3 710.7 748.7 710 752C709.3 755.3 710.3 762 708 764C705.7 766 698.3 766.3 696 764C693.7 761.7 696.7 752.7 694 750C691.3 747.3 684.7 749 680 748C675.3 747 669 746.7 666 744C663 741.3 662 736 662 732C662 728 664.3 727 666 720C667.7 713 670 699.7 672 690C674 680.3 676.3 673.3 678 662C679.7 650.7 681 635.3 682 622C683 608.7 683.5 595.3 684 582C684.5 568.7 684.7 555.3 685 542C685.3 528.7 685.7 519.7 686 502C686.3 484.3 686.7 453 687 436C687.3 419 686.8 414.3 688 400C689.2 385.7 691.7 367.3 694 350C696.3 332.7 701 312.7 702 296C703 279.3 700.7 261 700 250C699.3 239 699.3 239.3 698 230C696.7 220.7 693.2 201.9 692.1 194.4C691 186.9 691.5 187.1 691.4 185C691.3 182.9 690.8 183.8 691.4 182C692 180.2 693.8 177.3 695.2 174.2C696.6 171.1 699.4 166.7 699.9 163.3C700.4 159.9 699.2 158.1 698.4 154C697.6 149.9 695.6 143.7 695.2 138.5C694.8 133.3 695.6 126.8 696 123Z" fill="#e4bf83"/>
<g clip-path="url(#c_uR)">
<rect x="658" y="101.9" width="120.5" height="666.1" filter="url(#grainD)" opacity=".45"/>
<rect x="658" y="101.9" width="120.5" height="666.1" filter="url(#grainL)" opacity=".38"/>
<linearGradient id="mg_uR" gradientUnits="userSpaceOnUse" x1="0" y1="240" x2="0" y2="320"><stop offset="0" stop-color="#fff"/><stop offset="1" stop-color="#000"/></linearGradient>
<mask id="mk_uR" maskUnits="userSpaceOnUse" x="686" y="100" width="95" height="230"><rect x="686" y="100" width="95" height="230" fill="url(#mg_uR)"/></mask>
<g mask="url(#mk_uR)" opacity="0.8">
<rect x="686" y="100" width="95" height="230" fill="#c8a262" opacity=".85"/>
<rect x="686" y="100" width="95" height="230" filter="url(#mottD)"/>
<rect x="686" y="100" width="95" height="230" filter="url(#mottL)"/>
</g>
<path d="M702 104C711.7 101.7 748 101.7 758 104C768 106.3 771.7 115.7 762 118C752.3 120.3 710 120.3 700 118C690 115.7 692.3 106.3 702 104Z" fill="#a27c3f" opacity="0.8" filter="url(#b1)"/>
<path d="M712 110.5C714.3 110.8 721 112.2 726 112C731 111.8 739.3 109.5 742 109" fill="none" stroke="#ead9b2" stroke-width="1.8" stroke-linecap="round" opacity="0.85" filter="url(#b1)"/>
<path d="M692 184C705 182.3 759.7 186.8 772 190C784.3 193.2 771.3 200.8 766 203C760.7 205.2 748.3 204.2 740 203C731.7 201.8 723.7 196.5 716 196C708.3 195.5 698 202 694 200C690 198 679 185.7 692 184Z" fill="#94703a" opacity="0.7" filter="url(#b2)"/>
<path d="M693 198C694.2 192.3 701.5 189 704 196C706.5 203 707.7 228.7 708 240C708.3 251.3 707.3 260 706 264C704.7 268 701.5 269.7 700 264C698.5 258.3 698.2 241 697 230C695.8 219 691.8 203.7 693 198Z" fill="#94703a" opacity="0.6" filter="url(#b2)"/>
<path d="M758 206C761.2 199.2 767.8 198.3 768 204C768.2 209.7 761.5 225.7 759 240C756.5 254.3 755 281.7 753 290C751 298.3 747.7 297.5 747 290C746.3 282.5 747.2 259 749 245C750.8 231 754.8 212.8 758 206Z" fill="#a07a3e" opacity="0.55" filter="url(#b2)"/>
<g transform="translate(729 251) rotate(-14)">
<ellipse cx="0" cy="0" rx="12.6" ry="20.9" fill="#a17a3b" opacity=".45" filter="url(#tb2)"/>
<path d="M-2.2 -16.1C7.7 -15.2 9.9 3.8 2.2 15.2C-6.6 17.1 -9.9 -5.7 -2.2 -16.1Z" fill="#e8d3a4" opacity=".8" filter="url(#tb1)"/>
<ellipse cx="-3.3" cy="-8.6" rx="3.3" ry="3.8" fill="#f7eed8" opacity=".85" filter="url(#tb1)"/>
<ellipse cx="2.2" cy="4.8" rx="3.1" ry="3.8" fill="#f7eed8" opacity=".8" filter="url(#tb1)"/>
<ellipse cx="-4.4" cy="3.8" rx="2.2" ry="4.8" fill="#f4e8cb" opacity=".7" filter="url(#tb1)"/>
<ellipse cx="0.6" cy="-1.9" rx="2.8" ry="2.3" fill="#b08a4c" opacity=".6" filter="url(#tb1)"/>
<ellipse cx="-1.1" cy="10.5" rx="3.3" ry="1.9" fill="#b08a4c" opacity=".55" filter="url(#tb1)"/>
<path d="M3.3 -17.1C14.3 -7.6 13.8 13.3 -3.3 19" fill="none" stroke="#7f5c28" stroke-width="2.4" opacity=".75" filter="url(#tb1)"/>
<path d="M-6.6 -15.2C-11.6 -5.7 -11 7.6 -6.6 16.1" fill="none" stroke="#a37b3c" stroke-width="1.6" opacity=".6" filter="url(#tb1)"/>
</g>
<path d="M737.5 262C736.5 265.7 733.8 275.1 732.5 284.8C731.2 294.4 730.2 308.9 729.5 319.8C728.8 330.7 728.6 340.5 728.5 349.9C728.4 359.3 728.3 367.7 729 376.1C729.8 384.4 732 396.1 733 400C734 404 734.3 404 735 400C735.7 395.9 736.6 384.2 737 375.9C737.4 367.6 737.2 359.4 737.5 350.1C737.7 340.8 738.2 331 738.5 320.2C738.8 309.4 739.5 294.9 739.5 285.2C739.5 275.5 738.8 265.9 738.5 262C738.2 258.2 738.5 258.2 737.5 262Z" fill="#fdf8ec" opacity="1" filter="url(#b2)"/>
<path d="M744 290C743.7 296.7 742.8 317.5 742 330C741.2 342.5 739.8 354.2 739 365C738.2 375.8 737.3 390 737 395" fill="none" stroke="#d3a964" stroke-width="3" stroke-linecap="round" opacity="0.6" filter="url(#b1)"/>
<path d="M702 262C702.5 266.7 703.2 280.2 705 290C706.8 299.8 710.4 310.7 713 321C715.6 331.3 718.5 342.9 720.8 352C723.1 361.1 725 367.6 727 375.4C729 383.2 731.5 392.3 733 398.7C734.5 405.1 735.8 411.4 736.3 414" fill="none" stroke="#b08444" stroke-width="5" stroke-linecap="round" opacity="0.75" filter="url(#b1)"/>
<path d="M664 690C670 682.3 692 681.7 700 690C708 698.3 718 732.3 712 740C706 747.7 672 744.3 664 736C656 727.7 658 697.7 664 690Z" fill="#dcb87c" opacity="0.6" filter="url(#b2)"/>
<path d="M676 690C675.3 694.2 673 708 672 715C671 722 670.3 729.2 670 732" fill="none" stroke="#f1e2c2" stroke-width="3" stroke-linecap="round" opacity="0.6" filter="url(#b1)"/>
<path d="M686 400C686.2 408.3 687 430 687 450C687 470 686.3 495 686 520C685.7 545 685.8 578.3 685 600C684.2 621.7 681.7 641.7 681 650" fill="none" stroke="#c99a55" stroke-width="3" stroke-linecap="round" opacity="0.7" filter="url(#b1)"/>
<path d="M696 123C696.4 119.2 696.9 117.8 697.5 116C698.1 114.2 698.6 113.2 699.9 112.1C701.1 111 703.2 110.2 705 109.5C706.8 108.8 708.6 108.3 710.8 108.2C713 108.1 715.4 108.7 718 109C720.6 109.3 724 110 726.3 109.8C728.6 109.5 729.9 108.2 732 107.5C734.1 106.8 736.4 106.1 738.7 105.9C741 105.7 743.7 106.1 746 106.5C748.3 106.9 750.9 107.2 752.7 108.2C754.5 109.2 755.7 110.8 757 112.5C758.3 114.2 759.1 114.8 760.5 118.3C761.9 121.8 764.2 129.1 765.1 133.8C766 138.5 766.1 141.9 765.9 146.3C765.6 150.7 763 155.8 763.6 160.2C764.2 164.6 768 169.1 769.8 172.7C771.6 176.3 774 179.4 774.5 182C775 184.6 774 185.2 772.9 188.2C771.8 191.2 769.5 196.4 768 200C766.5 203.6 766 205 764 210C762 215 758.1 221.5 756 230C753.9 238.5 752.3 250.7 751.2 261C750.1 271.3 750.4 282.9 749.6 292C748.8 301.1 747.5 307.6 746.5 315.4C745.5 323.2 744.4 330.9 743.4 338.7C742.4 346.5 741.2 353.4 740.3 362C739.4 370.6 738.7 382.3 738 390C737.3 397.7 736.7 389.7 736 408C735.3 426.3 735.3 468 734 500C732.7 532 730 570 728 600C726 630 724 660 722 680C720 700 717.7 709.3 716 720C714.3 730.7 713 738.7 712 744C711 749.3 710.7 748.7 710 752C709.3 755.3 710.3 762 708 764C705.7 766 698.3 766.3 696 764C693.7 761.7 696.7 752.7 694 750C691.3 747.3 684.7 749 680 748C675.3 747 669 746.7 666 744C663 741.3 662 736 662 732C662 728 664.3 727 666 720C667.7 713 670 699.7 672 690C674 680.3 676.3 673.3 678 662C679.7 650.7 681 635.3 682 622C683 608.7 683.5 595.3 684 582C684.5 568.7 684.7 555.3 685 542C685.3 528.7 685.7 519.7 686 502C686.3 484.3 686.7 453 687 436C687.3 419 686.8 414.3 688 400C689.2 385.7 691.7 367.3 694 350C696.3 332.7 701 312.7 702 296C703 279.3 700.7 261 700 250C699.3 239 699.3 239.3 698 230C696.7 220.7 693.2 201.9 692.1 194.4C691 186.9 691.5 187.1 691.4 185C691.3 182.9 690.8 183.8 691.4 182C692 180.2 693.8 177.3 695.2 174.2C696.6 171.1 699.4 166.7 699.9 163.3C700.4 159.9 699.2 158.1 698.4 154C697.6 149.9 695.6 143.7 695.2 138.5C694.8 133.3 695.6 126.8 696 123Z" fill="none" stroke="#cfa565" stroke-width="7" opacity=".7" filter="url(#b2)"/>
<path d="M696 123C696.4 119.2 696.9 117.8 697.5 116C698.1 114.2 698.6 113.2 699.9 112.1C701.1 111 703.2 110.2 705 109.5C706.8 108.8 708.6 108.3 710.8 108.2C713 108.1 715.4 108.7 718 109C720.6 109.3 724 110 726.3 109.8C728.6 109.5 729.9 108.2 732 107.5C734.1 106.8 736.4 106.1 738.7 105.9C741 105.7 743.7 106.1 746 106.5C748.3 106.9 750.9 107.2 752.7 108.2C754.5 109.2 755.7 110.8 757 112.5C758.3 114.2 759.1 114.8 760.5 118.3C761.9 121.8 764.2 129.1 765.1 133.8C766 138.5 766.1 141.9 765.9 146.3C765.6 150.7 763 155.8 763.6 160.2C764.2 164.6 768 169.1 769.8 172.7C771.6 176.3 774 179.4 774.5 182C775 184.6 774 185.2 772.9 188.2C771.8 191.2 769.5 196.4 768 200C766.5 203.6 766 205 764 210C762 215 758.1 221.5 756 230C753.9 238.5 752.3 250.7 751.2 261C750.1 271.3 750.4 282.9 749.6 292C748.8 301.1 747.5 307.6 746.5 315.4C745.5 323.2 744.4 330.9 743.4 338.7C742.4 346.5 741.2 353.4 740.3 362C739.4 370.6 738.7 382.3 738 390C737.3 397.7 736.7 389.7 736 408C735.3 426.3 735.3 468 734 500C732.7 532 730 570 728 600C726 630 724 660 722 680C720 700 717.7 709.3 716 720C714.3 730.7 713 738.7 712 744C711 749.3 710.7 748.7 710 752C709.3 755.3 710.3 762 708 764C705.7 766 698.3 766.3 696 764C693.7 761.7 696.7 752.7 694 750C691.3 747.3 684.7 749 680 748C675.3 747 669 746.7 666 744C663 741.3 662 736 662 732C662 728 664.3 727 666 720C667.7 713 670 699.7 672 690C674 680.3 676.3 673.3 678 662C679.7 650.7 681 635.3 682 622C683 608.7 683.5 595.3 684 582C684.5 568.7 684.7 555.3 685 542C685.3 528.7 685.7 519.7 686 502C686.3 484.3 686.7 453 687 436C687.3 419 686.8 414.3 688 400C689.2 385.7 691.7 367.3 694 350C696.3 332.7 701 312.7 702 296C703 279.3 700.7 261 700 250C699.3 239 699.3 239.3 698 230C696.7 220.7 693.2 201.9 692.1 194.4C691 186.9 691.5 187.1 691.4 185C691.3 182.9 690.8 183.8 691.4 182C692 180.2 693.8 177.3 695.2 174.2C696.6 171.1 699.4 166.7 699.9 163.3C700.4 159.9 699.2 158.1 698.4 154C697.6 149.9 695.6 143.7 695.2 138.5C694.8 133.3 695.6 126.8 696 123Z" fill="none" stroke="#b1894a" stroke-width="2" opacity=".8" filter="url(#b1)"/>
</g>
<clipPath id="c_cuR"><path d="M696 123C696.4 119.2 696.9 117.8 697.5 116C698.1 114.2 698.5 113.2 699.9 112.5C701.3 111.8 703.6 111.8 706 112C708.4 112.2 710.7 113.1 714 113.5C717.3 113.9 722 114.8 726 114.5C730 114.2 734.3 112.6 738 112C741.7 111.4 745.2 111 748 111C750.8 111 752.9 110.8 755 112C757.1 113.2 758.8 114.7 760.5 118.3C762.2 121.9 764.2 129.1 765.1 133.8C766 138.5 766.1 141.9 765.9 146.3C765.6 150.7 763 155.8 763.6 160.2C764.2 164.6 768 169.1 769.8 172.7C771.6 176.3 774 179.4 774.5 182C775 184.6 774.5 186.9 772.9 188.2C771.3 189.4 768.1 189.2 765 189.5C761.9 189.8 758.2 190.3 754.3 189.8C750.4 189.3 745.7 188.3 741.8 186.7C737.9 185.1 734.6 182.7 731 180.4C727.4 178.1 723.5 174.2 720.1 172.7C716.7 171.1 713.6 170.1 710.8 171.1C707.9 172.1 705.6 176.8 703 178.9C700.4 181.1 696.9 183.2 695 184C693.1 184.8 692 183.8 691.4 183.5C690.8 183.2 690.8 183.6 691.4 182C692 180.4 693.8 177.3 695.2 174.2C696.6 171.1 699.4 166.7 699.9 163.3C700.4 159.9 699.2 158.1 698.4 154C697.6 149.9 695.6 143.7 695.2 138.5C694.8 133.3 695.6 126.8 696 123Z"/></clipPath>
<path d="M696 123C696.4 119.2 696.9 117.8 697.5 116C698.1 114.2 698.5 113.2 699.9 112.5C701.3 111.8 703.6 111.8 706 112C708.4 112.2 710.7 113.1 714 113.5C717.3 113.9 722 114.8 726 114.5C730 114.2 734.3 112.6 738 112C741.7 111.4 745.2 111 748 111C750.8 111 752.9 110.8 755 112C757.1 113.2 758.8 114.7 760.5 118.3C762.2 121.9 764.2 129.1 765.1 133.8C766 138.5 766.1 141.9 765.9 146.3C765.6 150.7 763 155.8 763.6 160.2C764.2 164.6 768 169.1 769.8 172.7C771.6 176.3 774 179.4 774.5 182C775 184.6 774.5 186.9 772.9 188.2C771.3 189.4 768.1 189.2 765 189.5C761.9 189.8 758.2 190.3 754.3 189.8C750.4 189.3 745.7 188.3 741.8 186.7C737.9 185.1 734.6 182.7 731 180.4C727.4 178.1 723.5 174.2 720.1 172.7C716.7 171.1 713.6 170.1 710.8 171.1C707.9 172.1 705.6 176.8 703 178.9C700.4 181.1 696.9 183.2 695 184C693.1 184.8 692 183.8 691.4 183.5C690.8 183.2 690.8 183.6 691.4 182C692 180.4 693.8 177.3 695.2 174.2C696.6 171.1 699.4 166.7 699.9 163.3C700.4 159.9 699.2 158.1 698.4 154C697.6 149.9 695.6 143.7 695.2 138.5C694.8 133.3 695.6 126.8 696 123Z" fill="#c2d2d6"/>
<g clip-path="url(#c_cuR)">
<path d="M697 118C700.8 113.8 714.3 112 720 113C725.7 114 729.5 117.8 731 124C732.5 130.2 730.7 143.8 729 150C727.3 156.2 725.2 160.2 721 161C716.8 161.8 708 158.8 704 155C700 151.2 698.2 144.2 697 138C695.8 131.8 693.2 122.2 697 118Z" fill="#93b0b6" opacity="0.85" filter="url(#b3)"/>
<path d="M706 124C708.2 121 716.7 118.3 720 120C723.3 121.7 725.3 129.7 726 134C726.7 138.3 725.8 143.7 724 146C722.2 148.3 717.8 149.3 715 148C712.2 146.7 708.5 142 707 138C705.5 134 703.8 127 706 124Z" fill="#84a4ab" opacity="0.6" filter="url(#b2)"/>
<path d="M734 126C738.2 120.7 753 117.7 758 120C763 122.3 763.3 134 764 140C764.7 146 761.3 150.3 762 156C762.7 161.7 769.3 169.3 768 174C766.7 178.7 759 183.7 754 184C749 184.3 741.5 181.3 738 176C734.5 170.7 733.7 160.3 733 152C732.3 143.7 729.8 131.3 734 126Z" fill="#e6edec" opacity="0.95" filter="url(#b2)"/>
<path d="M728 120C729.7 117 736.3 117 738 122C739.7 127 739 142.3 738 150C737 157.7 734 166.3 732 168C730 169.7 726.7 164.7 726 160C725.3 155.3 727.7 146.7 728 140C728.3 133.3 726.3 123 728 120Z" fill="#f0f4f3" opacity="0.55" filter="url(#b2)"/>
<path d="M692 176C693.7 173 698.3 167.3 702 166C705.7 164.7 713 166.3 714 168C715 169.7 710.3 173.7 708 176C705.7 178.3 702.7 180.7 700 182C697.3 183.3 693.3 185 692 184C690.7 183 690.3 179 692 176Z" fill="#ccdade" opacity="0.9" filter="url(#b1)"/>
<path d="M736 178C741 176.7 765.7 178.2 772 180C778.3 181.8 779 187.7 774 189C769 190.3 748.3 189.8 742 188C735.7 186.2 731 179.3 736 178Z" fill="#eef2f1" opacity="0.9" filter="url(#b1)"/>
<path d="M696 123C696.4 119.2 696.9 117.8 697.5 116C698.1 114.2 698.5 113.2 699.9 112.5C701.3 111.8 703.6 111.8 706 112C708.4 112.2 710.7 113.1 714 113.5C717.3 113.9 722 114.8 726 114.5C730 114.2 734.3 112.6 738 112C741.7 111.4 745.2 111 748 111C750.8 111 752.9 110.8 755 112C757.1 113.2 758.8 114.7 760.5 118.3C762.2 121.9 764.2 129.1 765.1 133.8C766 138.5 766.1 141.9 765.9 146.3C765.6 150.7 763 155.8 763.6 160.2C764.2 164.6 768 169.1 769.8 172.7C771.6 176.3 774 179.4 774.5 182C775 184.6 774.5 186.9 772.9 188.2C771.3 189.4 768.1 189.2 765 189.5C761.9 189.8 758.2 190.3 754.3 189.8C750.4 189.3 745.7 188.3 741.8 186.7C737.9 185.1 734.6 182.7 731 180.4C727.4 178.1 723.5 174.2 720.1 172.7C716.7 171.1 713.6 170.1 710.8 171.1C707.9 172.1 705.6 176.8 703 178.9C700.4 181.1 696.9 183.2 695 184C693.1 184.8 692 183.8 691.4 183.5C690.8 183.2 690.8 183.6 691.4 182C692 180.4 693.8 177.3 695.2 174.2C696.6 171.1 699.4 166.7 699.9 163.3C700.4 159.9 699.2 158.1 698.4 154C697.6 149.9 695.6 143.7 695.2 138.5C694.8 133.3 695.6 126.8 696 123Z" fill="none" stroke="#8ba6ad" stroke-width="3.4" opacity=".8" filter="url(#b1)"/>
</g>
<clipPath id="c_mR"><path d="M684.5 376C685.2 375.3 687.8 389.3 690 396C692.2 402.7 695 398.3 698 416C701 433.7 704.7 481 708 502C711.3 523 715.7 528.7 718 542C720.3 555.3 720.8 568.7 722 582C723.2 595.3 724.3 608.7 725 622C725.7 635.3 726.2 649 726 662C725.8 675 725.7 687.3 724 700C722.3 712.7 718 729.3 716 738C714 746.7 713.7 750.3 712 752C710.3 753.7 707.5 751.5 706 748C704.5 744.5 704.2 737 703 731C701.8 725 700.6 718.2 699 712C697.4 705.8 695.3 700.2 693.5 694C691.7 687.8 689.3 681.2 688 675C686.7 668.8 685.8 665.8 685.5 657C685.2 648.2 686.4 634.5 686.5 622C686.6 609.5 686.2 595.3 686 582C685.8 568.7 685.6 555.3 685.5 542C685.4 528.7 685.3 519 685.5 502C685.7 485 686.4 457 686.5 440C686.6 423 686.3 410.7 686 400C685.7 389.3 683.8 376.7 684.5 376Z"/></clipPath>
<path d="M684.5 376C685.2 375.3 687.8 389.3 690 396C692.2 402.7 695 398.3 698 416C701 433.7 704.7 481 708 502C711.3 523 715.7 528.7 718 542C720.3 555.3 720.8 568.7 722 582C723.2 595.3 724.3 608.7 725 622C725.7 635.3 726.2 649 726 662C725.8 675 725.7 687.3 724 700C722.3 712.7 718 729.3 716 738C714 746.7 713.7 750.3 712 752C710.3 753.7 707.5 751.5 706 748C704.5 744.5 704.2 737 703 731C701.8 725 700.6 718.2 699 712C697.4 705.8 695.3 700.2 693.5 694C691.7 687.8 689.3 681.2 688 675C686.7 668.8 685.8 665.8 685.5 657C685.2 648.2 686.4 634.5 686.5 622C686.6 609.5 686.2 595.3 686 582C685.8 568.7 685.6 555.3 685.5 542C685.4 528.7 685.3 519 685.5 502C685.7 485 686.4 457 686.5 440C686.6 423 686.3 410.7 686 400C685.7 389.3 683.8 376.7 684.5 376Z" fill="#adc2c9"/>
<g clip-path="url(#c_mR)">
<path d="M676.5 369L734 328.8M676.5 379L734 338.8M676.5 390L734 349.8M676.5 400.2L734 360M676.5 409.5L734 369.2M676.5 420.5L734 380.3M676.5 429L734 388.8M676.5 438.8L734 398.5M676.5 448.1L734 407.9M676.5 460.5L734 420.2M676.5 471.2L734 430.9M676.5 479.1L734 438.8M676.5 488.1L734 447.8M676.5 496.6L734 456.4M676.5 505.4L734 465.1M676.5 516.1L734 475.8M676.5 526.5L734 486.2M676.5 536.9L734 496.6M676.5 546.2L734 506M676.5 558.7L734 518.5M676.5 570.1L734 529.8M676.5 578.9L734 538.7M676.5 587.3L734 547.1M676.5 597.8L734 557.5M676.5 608.3L734 568.1M676.5 620.4L734 580.1M676.5 628.4L734 588.1M676.5 639.3L734 599.1M676.5 650.3L734 610M676.5 659.5L734 619.3M676.5 669.7L734 629.4M676.5 678.2L734 638M676.5 690L734 649.8M676.5 698.4L734 658.2M676.5 706.3L734 666.1M676.5 716.3L734 676M676.5 726.3L734 686M676.5 736.1L734 695.8M676.5 745.5L734 705.3M676.5 754.4L734 714.1M676.5 763.1L734 722.8M676.5 775L734 734.8M676.5 785.5L734 745.2M676.5 794.5L734 754.2M676.5 805.7L734 765.5M676.5 816L734 775.7M676.5 824.6L734 784.4M676.5 834.9L734 794.6" stroke="#869fa8" stroke-width="1.5" opacity=".65" fill="none" filter="url(#b1)"/>
<path d="M676.5 373.9L734 333.6M676.5 385.1L734 344.8M676.5 395L734 354.8M676.5 404.5L734 364.2M676.5 414.8L734 374.6M676.5 424.5L734 384.3M676.5 433L734 392.8M676.5 444.3L734 404M676.5 454.3L734 414.1M676.5 465.9L734 425.6M676.5 475.3L734 435.1M676.5 484.2L734 443.9M676.5 492.3L734 452M676.5 500.5L734 460.2M676.5 510.2L734 470M676.5 521.1L734 480.9M676.5 531.5L734 491.2M676.5 541.8L734 501.5M676.5 552.5L734 512.2M676.5 564.6L734 524.3M676.5 574.6L734 534.4M676.5 583.4L734 543.2M676.5 593L734 552.8M676.5 603.6L734 563.4M676.5 614.5L734 574.2M676.5 624.1L734 583.9M676.5 634.4L734 594.2M676.5 645.5L734 605.3M676.5 654.2L734 614M676.5 665.2L734 625M676.5 673.6L734 633.4M676.5 684.4L734 644.1M676.5 694.1L734 653.8M676.5 702.4L734 662.2M676.5 712.1L734 671.8M676.5 721.4L734 681.2M676.5 730.5L734 690.3M676.5 740.2L734 699.9M676.5 749.6L734 709.3M676.5 758.6L734 718.4M676.5 769.2L734 729M676.5 779.5L734 739.3M676.5 789.8L734 749.5M676.5 800.4L734 760.1M676.5 809.7L734 769.5M676.5 820.2L734 780M676.5 830.3L734 790.1M676.5 839.4L734 799.1" stroke="#d9e4e6" stroke-width="2.2" opacity=".65" fill="none" filter="url(#b1)"/>
<path d="M684.5 376C685.2 375.3 687.8 389.3 690 396C692.2 402.7 695 398.3 698 416C701 433.7 704.7 481 708 502C711.3 523 715.7 528.7 718 542C720.3 555.3 720.8 568.7 722 582C723.2 595.3 724.3 608.7 725 622C725.7 635.3 726.2 649 726 662C725.8 675 725.7 687.3 724 700C722.3 712.7 718 729.3 716 738C714 746.7 713.7 750.3 712 752C710.3 753.7 707.5 751.5 706 748C704.5 744.5 704.2 737 703 731C701.8 725 700.6 718.2 699 712C697.4 705.8 695.3 700.2 693.5 694C691.7 687.8 689.3 681.2 688 675C686.7 668.8 685.8 665.8 685.5 657C685.2 648.2 686.4 634.5 686.5 622C686.6 609.5 686.2 595.3 686 582C685.8 568.7 685.6 555.3 685.5 542C685.4 528.7 685.3 519 685.5 502C685.7 485 686.4 457 686.5 440C686.6 423 686.3 410.7 686 400C685.7 389.3 683.8 376.7 684.5 376Z" fill="none" stroke="#93aab4" stroke-width="3.5" opacity=".6" filter="url(#b2)"/>
</g>
<path d="M694 665C693.7 662.8 696 660.5 698 659.5C700 658.5 703.5 658.2 706 659C708.5 659.8 711.7 661.8 713 664C714.3 666.2 714.8 670.2 714 672C713.2 673.8 710.3 674.8 708 675C705.7 675.2 702.3 674.7 700 673C697.7 671.3 694.3 667.2 694 665Z" fill="#e6d3ac"/><path d="M694 665C693.7 662.8 696 660.5 698 659.5C700 658.5 703.5 658.2 706 659C708.5 659.8 711.7 661.8 713 664C714.3 666.2 714.8 670.2 714 672C713.2 673.8 710.3 674.8 708 675C705.7 675.2 702.3 674.7 700 673C697.7 671.3 694.3 667.2 694 665Z" fill="none" stroke="#f7fafa" stroke-width="1.6"/>
<path d="M706 684C706.3 682.7 710.3 682.3 712 683C713.7 683.7 715.7 686.2 716 688C716.3 689.8 715 693.5 714 694C713 694.5 711.3 692.7 710 691C708.7 689.3 705.7 685.3 706 684Z" fill="#f3f1e6"/>
<path d="M662 729C661 729.2 661.3 731.5 662 734C662.7 736.5 663 741.7 666 744C669 746.3 675.3 747 680 748C684.7 749 691.3 747.3 694 750C696.7 752.7 693.7 761.7 696 764C698.3 766.3 705.7 766 708 764C710.3 762 709.3 755.3 710 752C710.7 748.7 712.7 745.8 712 744C711.3 742.2 709 741.5 706 741C703 740.5 698.3 741.3 694 741C689.7 740.7 684.3 740.3 680 739C675.7 737.7 671 734.7 668 733C665 731.3 663 728.8 662 729Z" fill="#a4bcc6"/><path d="M662 729C661 729.2 661.3 731.5 662 734C662.7 736.5 663 741.7 666 744C669 746.3 675.3 747 680 748C684.7 749 691.3 747.3 694 750C696.7 752.7 693.7 761.7 696 764C698.3 766.3 705.7 766 708 764C710.3 762 709.3 755.3 710 752C710.7 748.7 712.7 745.8 712 744C711.3 742.2 709 741.5 706 741C703 740.5 698.3 741.3 694 741C689.7 740.7 684.3 740.3 680 739C675.7 737.7 671 734.7 668 733C665 731.3 663 728.8 662 729Z" fill="none" stroke="#7d98a3" stroke-width="1.2" opacity=".8" filter="url(#b1)"/>
<path d="M713 210C714.3 207.1 716.3 207.5 716 210.5C715.7 213.5 712.9 222.6 711 228C709.1 233.4 705.9 237.3 704.5 243C703.1 248.7 703.1 258.8 702.5 262C701.9 265.2 701.2 265.2 701 262C700.8 258.8 700.3 248.7 701.5 243C702.7 237.3 706.1 233.5 708 228C709.9 222.5 711.7 212.9 713 210Z" fill="#d5e1e4"/>
<clipPath id="c_rR"><path d="M640.9 202.2C640.8 200.4 641.2 198.8 642 197.5C642.8 196.2 642.3 195.4 645.5 194.4C648.7 193.4 655.1 191.7 661.1 191.3C667.1 190.9 676.1 191.7 681.3 192.1C686.4 192.5 689.4 193 692 194C694.6 195 695.9 196.5 697 198C698.1 199.5 698.5 201.3 698.6 203C698.7 204.7 698.1 206.5 697.8 208C697.5 209.5 696.7 208.8 696.8 212C696.9 215.2 697.6 221.9 698.4 227C699.2 232.1 700.8 235.4 701.5 242.6C702.2 249.8 701.9 262.1 702.5 270C703.1 277.9 703.2 281.5 705 290C706.8 298.5 710.4 310.7 713 321C715.6 331.3 718.5 342.9 720.8 352C723.1 361.1 725 367.6 727 375.4C729 383.2 731.5 392.3 733 398.7C734.5 405.1 735.2 408.8 736.3 414C737.4 419.2 738.1 424 739.4 430C740.7 436 742.7 443.3 744 450C745.3 456.7 745.7 461.3 747 470C748.3 478.7 750.2 490 752 502C753.8 514 756 528.7 758 542C760 555.3 762 568.7 764 582C766 595.3 767.7 608.7 770 622C772.3 635.3 775.7 652.3 778 662C780.3 671.7 781.3 672 784 680C786.7 688 790.7 700.7 794 710C797.3 719.3 801.7 728.3 804 736C806.3 743.7 807.3 748.7 808 756C808.7 763.3 809.3 773.7 808 780C806.7 786.3 803 791.7 800 794C797 796.3 793.3 795 790 794C786.7 793 785 790.7 780 788C775 785.3 766.7 781 760 778C753.3 775 746.7 772.3 740 770C733.3 767.7 724.7 765.7 720 764C715.3 762.3 713.7 762 712 760C710.3 758 709.7 756 710 752C710.3 748 711.7 744.7 714 736C716.3 727.3 722 712.3 724 700C726 687.7 725.8 675 726 662C726.2 649 725.7 635.3 725 622C724.3 608.7 723.2 595.3 722 582C720.8 568.7 720.3 555.3 718 542C715.7 528.7 711 516.3 708 502C705 487.7 702 470.3 700 456C698 441.7 697.7 426 696 416C694.3 406 691.8 400.3 690 396C688.2 391.7 686 394.4 685.1 390C684.2 385.6 685 375.8 684.4 369.8C683.8 363.9 682.9 360.8 681.3 354.3C679.7 347.8 677.1 338.2 675 331C672.9 323.8 671.1 316.8 668.8 310.8C666.5 304.8 663.2 300.9 661.1 295.2C659 289.5 657.7 284.1 656.4 276.6C655.1 269.1 654.6 258.6 653.3 250.3C652 242 650 233.2 648.6 227C647.2 220.8 645.8 216.1 644.8 213C643.8 209.9 643 210.2 642.4 208.4C641.8 206.6 641 204 640.9 202.2Z"/></clipPath>
<path d="M640.9 202.2C640.8 200.4 641.2 198.8 642 197.5C642.8 196.2 642.3 195.4 645.5 194.4C648.7 193.4 655.1 191.7 661.1 191.3C667.1 190.9 676.1 191.7 681.3 192.1C686.4 192.5 689.4 193 692 194C694.6 195 695.9 196.5 697 198C698.1 199.5 698.5 201.3 698.6 203C698.7 204.7 698.1 206.5 697.8 208C697.5 209.5 696.7 208.8 696.8 212C696.9 215.2 697.6 221.9 698.4 227C699.2 232.1 700.8 235.4 701.5 242.6C702.2 249.8 701.9 262.1 702.5 270C703.1 277.9 703.2 281.5 705 290C706.8 298.5 710.4 310.7 713 321C715.6 331.3 718.5 342.9 720.8 352C723.1 361.1 725 367.6 727 375.4C729 383.2 731.5 392.3 733 398.7C734.5 405.1 735.2 408.8 736.3 414C737.4 419.2 738.1 424 739.4 430C740.7 436 742.7 443.3 744 450C745.3 456.7 745.7 461.3 747 470C748.3 478.7 750.2 490 752 502C753.8 514 756 528.7 758 542C760 555.3 762 568.7 764 582C766 595.3 767.7 608.7 770 622C772.3 635.3 775.7 652.3 778 662C780.3 671.7 781.3 672 784 680C786.7 688 790.7 700.7 794 710C797.3 719.3 801.7 728.3 804 736C806.3 743.7 807.3 748.7 808 756C808.7 763.3 809.3 773.7 808 780C806.7 786.3 803 791.7 800 794C797 796.3 793.3 795 790 794C786.7 793 785 790.7 780 788C775 785.3 766.7 781 760 778C753.3 775 746.7 772.3 740 770C733.3 767.7 724.7 765.7 720 764C715.3 762.3 713.7 762 712 760C710.3 758 709.7 756 710 752C710.3 748 711.7 744.7 714 736C716.3 727.3 722 712.3 724 700C726 687.7 725.8 675 726 662C726.2 649 725.7 635.3 725 622C724.3 608.7 723.2 595.3 722 582C720.8 568.7 720.3 555.3 718 542C715.7 528.7 711 516.3 708 502C705 487.7 702 470.3 700 456C698 441.7 697.7 426 696 416C694.3 406 691.8 400.3 690 396C688.2 391.7 686 394.4 685.1 390C684.2 385.6 685 375.8 684.4 369.8C683.8 363.9 682.9 360.8 681.3 354.3C679.7 347.8 677.1 338.2 675 331C672.9 323.8 671.1 316.8 668.8 310.8C666.5 304.8 663.2 300.9 661.1 295.2C659 289.5 657.7 284.1 656.4 276.6C655.1 269.1 654.6 258.6 653.3 250.3C652 242 650 233.2 648.6 227C647.2 220.8 645.8 216.1 644.8 213C643.8 209.9 643 210.2 642.4 208.4C641.8 206.6 641 204 640.9 202.2Z" fill="#e4bf83"/>
<g clip-path="url(#c_rR)">
<rect x="636.9" y="187.3" width="175.1" height="610.7" filter="url(#grainD)" opacity=".45"/>
<rect x="636.9" y="187.3" width="175.1" height="610.7" filter="url(#grainL)" opacity=".38"/>
<linearGradient id="mg_rR" gradientUnits="userSpaceOnUse" x1="0" y1="235" x2="0" y2="315"><stop offset="0" stop-color="#fff"/><stop offset="1" stop-color="#000"/></linearGradient>
<mask id="mk_rR" maskUnits="userSpaceOnUse" x="636" y="185" width="80" height="140"><rect x="636" y="185" width="80" height="140" fill="url(#mg_rR)"/></mask>
<g mask="url(#mk_rR)" opacity="0.8">
<rect x="636" y="185" width="80" height="140" fill="#c8a262" opacity=".85"/>
<rect x="636" y="185" width="80" height="140" filter="url(#mottD)"/>
<rect x="636" y="185" width="80" height="140" filter="url(#mottL)"/>
</g>
<path d="M642 207C650.7 204.8 688.7 203.7 698 205C707.3 206.3 702.7 212.8 698 215C693.3 217.2 678.7 217.5 670 218C661.3 218.5 650.7 219.8 646 218C641.3 216.2 633.3 209.2 642 207Z" fill="#94703a" opacity="0.6" filter="url(#b1)"/>
<path d="M645 215C645.5 209.2 650.8 210 653 215C655.2 220 656.2 232.5 658 245C659.8 257.5 663.8 282.2 664 290C664.2 297.8 661.3 298.7 659 292C656.7 285.3 652.3 262.8 650 250C647.7 237.2 644.5 220.8 645 215Z" fill="#94703a" opacity="0.5" filter="url(#b2)"/>
<path d="M664 300C666.2 305.8 673 322.5 677 335C681 347.5 684 361.8 688 375C692 388.2 697 401.5 701 414C705 426.5 708.8 435.3 712 450C715.2 464.7 717.5 483.7 720 502C722.5 520.3 725.2 540.3 727 560C728.8 579.7 730.2 600 731 620C731.8 640 731.8 670 732 680" fill="none" stroke="#d3a55e" stroke-width="10" stroke-linecap="round" opacity="0.8" filter="url(#b2)"/>
<path d="M674 224C674.7 228.3 677.3 245.7 678 250" fill="none" stroke="#f0e2c0" stroke-width="6" stroke-linecap="round" opacity="0.7" filter="url(#b2)"/>
<path d="M679.5 250.1C680 254 681.8 265.6 683.1 272.8C684.4 280 685.1 282.4 687.1 293.2C689.2 304 692.4 322.3 695.7 337.5C698.9 352.7 703.5 370.1 706.7 384.4C709.8 398.7 712.3 412.2 714.6 423.3C717 434.4 718.6 437.7 720.6 451C722.6 464.3 724.1 487.6 726.6 503C729.1 518.5 732.5 530.1 735.7 543.5C738.9 556.9 742.7 570.1 745.7 583.4C748.7 596.7 750.9 610 753.6 623.3C756.4 636.6 759 650.3 762.1 663.2C765.2 676.1 768.9 689.6 772.1 700.8C775.2 712 779.2 725.4 781 730.2C782.8 735 783.2 735 783 729.8C782.8 724.6 781.4 710.7 779.9 699.2C778.4 687.7 776.1 673.9 773.9 660.8C771.6 647.7 769 634.1 766.4 620.7C763.8 607.4 761.3 593.9 758.3 580.6C755.3 567.2 751.5 553.8 748.3 540.5C745.2 527.2 741.9 516.2 739.4 501C736.9 485.7 735.4 462.4 733.4 449C731.4 435.7 729.7 431.9 727.4 420.7C725 409.4 722.5 396 719.3 381.6C716.2 367.2 712.1 349.7 708.3 334.5C704.6 319.4 700.1 301.3 696.9 290.8C693.6 280.2 691.6 278 688.9 271.2C686.2 264.4 682 253.4 680.5 249.9C678.9 246.4 679.1 246.3 679.5 250.1Z" fill="#fbf3e0" opacity="1" filter="url(#b2)"/>
<path d="M692 225C692.7 230.8 694.7 249.2 696 260C697.3 270.8 699.3 285 700 290" fill="none" stroke="#a07a3e" stroke-width="3" stroke-linecap="round" opacity="0.5" filter="url(#b1)"/>
<path d="M686.6 375C688.3 378.5 693.9 389.5 697 396C700.1 402.5 702.2 407.3 705 414C707.8 420.7 711.4 430 714 436C716.6 442 719 442.7 720.8 450C722.6 457.3 723.8 468.3 725 480C726.2 491.7 727 503.3 728 520C729 536.7 730.2 560 731 580C731.8 600 732.7 620 733 640C733.3 660 733 690 733 700" fill="none" stroke="#b98e4c" stroke-width="2.2" stroke-linecap="round" opacity="0.7" filter="url(#b1)"/>
<path d="M744 480C745.3 490 749.3 520 752 540C754.7 560 757.3 581.7 760 600C762.7 618.3 766.7 641.7 768 650" fill="none" stroke="#d9b272" stroke-width="2.5" stroke-linecap="round" opacity="0.5" filter="url(#b1)"/>
<path d="M748 470C749.7 481.7 754.7 516.7 758 540C761.3 563.3 764.3 588.3 768 610C771.7 631.7 778 660 780 670" fill="none" stroke="#d3a964" stroke-width="3" stroke-linecap="round" opacity="0.5" filter="url(#b2)"/>
<path d="M735 715C743.3 710 758.8 723 770 728C781.2 733 796 736.7 802 745C808 753.3 809.7 771.5 806 778C802.3 784.5 789.3 785.3 780 784C770.7 782.7 760 774.3 750 770C740 765.7 722.5 767.2 720 758C717.5 748.8 726.7 720 735 715Z" fill="#f3e7cf" opacity="0.55" filter="url(#b2)"/>
<path d="M756 690C757 695 760 710.8 762 720C764 729.2 765.7 737 768 745C770.3 753 774.7 764.2 776 768" fill="none" stroke="#fbf5e8" stroke-width="3.5" stroke-linecap="round" opacity="0.85" filter="url(#b1)"/>
<path d="M742 700C743 704.2 745.7 716.3 748 725C750.3 733.7 754.7 747.5 756 752" fill="none" stroke="#c39a59" stroke-width="3" stroke-linecap="round" opacity="0.55" filter="url(#b1)"/>
<path d="M772 712C773 716.7 776.3 732 778 740C779.7 748 781.3 756.7 782 760" fill="none" stroke="#c39a59" stroke-width="2.5" stroke-linecap="round" opacity="0.5" filter="url(#b1)"/>
<path d="M730 690C731 695 733.7 710 736 720C738.3 730 741.7 742.3 744 750C746.3 757.7 749 763.3 750 766" fill="none" stroke="#f3e6c9" stroke-width="4" stroke-linecap="round" opacity="0.6" filter="url(#b1)"/>
<path d="M712 745C715 743.3 724.7 747.5 730 750C735.3 752.5 742.3 756.3 744 760C745.7 763.7 743.7 771 740 772C736.3 773 726.7 768 722 766C717.3 764 713.7 763.5 712 760C710.3 756.5 709 746.7 712 745Z" fill="#d2ab6a" opacity="0.6" filter="url(#b1)"/>
<path d="M726 720C725 724.2 721.7 738.7 720 745C718.3 751.3 716.7 755.8 716 758" fill="none" stroke="#c39a59" stroke-width="3" stroke-linecap="round" opacity="0.5" filter="url(#b1)"/>
<path d="M780 740C783.7 734.5 795.7 737 800 742C804.3 747 807.7 762 806 770C804.3 778 794.7 789.2 790 790C785.3 790.8 779.7 783.3 778 775C776.3 766.7 776.3 745.5 780 740Z" fill="#cda768" opacity="0.5" filter="url(#b2)"/>
<path d="M640.9 202.2C640.8 200.4 641.2 198.8 642 197.5C642.8 196.2 642.3 195.4 645.5 194.4C648.7 193.4 655.1 191.7 661.1 191.3C667.1 190.9 676.1 191.7 681.3 192.1C686.4 192.5 689.4 193 692 194C694.6 195 695.9 196.5 697 198C698.1 199.5 698.5 201.3 698.6 203C698.7 204.7 698.1 206.5 697.8 208C697.5 209.5 696.7 208.8 696.8 212C696.9 215.2 697.6 221.9 698.4 227C699.2 232.1 700.8 235.4 701.5 242.6C702.2 249.8 701.9 262.1 702.5 270C703.1 277.9 703.2 281.5 705 290C706.8 298.5 710.4 310.7 713 321C715.6 331.3 718.5 342.9 720.8 352C723.1 361.1 725 367.6 727 375.4C729 383.2 731.5 392.3 733 398.7C734.5 405.1 735.2 408.8 736.3 414C737.4 419.2 738.1 424 739.4 430C740.7 436 742.7 443.3 744 450C745.3 456.7 745.7 461.3 747 470C748.3 478.7 750.2 490 752 502C753.8 514 756 528.7 758 542C760 555.3 762 568.7 764 582C766 595.3 767.7 608.7 770 622C772.3 635.3 775.7 652.3 778 662C780.3 671.7 781.3 672 784 680C786.7 688 790.7 700.7 794 710C797.3 719.3 801.7 728.3 804 736C806.3 743.7 807.3 748.7 808 756C808.7 763.3 809.3 773.7 808 780C806.7 786.3 803 791.7 800 794C797 796.3 793.3 795 790 794C786.7 793 785 790.7 780 788C775 785.3 766.7 781 760 778C753.3 775 746.7 772.3 740 770C733.3 767.7 724.7 765.7 720 764C715.3 762.3 713.7 762 712 760C710.3 758 709.7 756 710 752C710.3 748 711.7 744.7 714 736C716.3 727.3 722 712.3 724 700C726 687.7 725.8 675 726 662C726.2 649 725.7 635.3 725 622C724.3 608.7 723.2 595.3 722 582C720.8 568.7 720.3 555.3 718 542C715.7 528.7 711 516.3 708 502C705 487.7 702 470.3 700 456C698 441.7 697.7 426 696 416C694.3 406 691.8 400.3 690 396C688.2 391.7 686 394.4 685.1 390C684.2 385.6 685 375.8 684.4 369.8C683.8 363.9 682.9 360.8 681.3 354.3C679.7 347.8 677.1 338.2 675 331C672.9 323.8 671.1 316.8 668.8 310.8C666.5 304.8 663.2 300.9 661.1 295.2C659 289.5 657.7 284.1 656.4 276.6C655.1 269.1 654.6 258.6 653.3 250.3C652 242 650 233.2 648.6 227C647.2 220.8 645.8 216.1 644.8 213C643.8 209.9 643 210.2 642.4 208.4C641.8 206.6 641 204 640.9 202.2Z" fill="none" stroke="#cfa565" stroke-width="7" opacity=".7" filter="url(#b2)"/>
<path d="M640.9 202.2C640.8 200.4 641.2 198.8 642 197.5C642.8 196.2 642.3 195.4 645.5 194.4C648.7 193.4 655.1 191.7 661.1 191.3C667.1 190.9 676.1 191.7 681.3 192.1C686.4 192.5 689.4 193 692 194C694.6 195 695.9 196.5 697 198C698.1 199.5 698.5 201.3 698.6 203C698.7 204.7 698.1 206.5 697.8 208C697.5 209.5 696.7 208.8 696.8 212C696.9 215.2 697.6 221.9 698.4 227C699.2 232.1 700.8 235.4 701.5 242.6C702.2 249.8 701.9 262.1 702.5 270C703.1 277.9 703.2 281.5 705 290C706.8 298.5 710.4 310.7 713 321C715.6 331.3 718.5 342.9 720.8 352C723.1 361.1 725 367.6 727 375.4C729 383.2 731.5 392.3 733 398.7C734.5 405.1 735.2 408.8 736.3 414C737.4 419.2 738.1 424 739.4 430C740.7 436 742.7 443.3 744 450C745.3 456.7 745.7 461.3 747 470C748.3 478.7 750.2 490 752 502C753.8 514 756 528.7 758 542C760 555.3 762 568.7 764 582C766 595.3 767.7 608.7 770 622C772.3 635.3 775.7 652.3 778 662C780.3 671.7 781.3 672 784 680C786.7 688 790.7 700.7 794 710C797.3 719.3 801.7 728.3 804 736C806.3 743.7 807.3 748.7 808 756C808.7 763.3 809.3 773.7 808 780C806.7 786.3 803 791.7 800 794C797 796.3 793.3 795 790 794C786.7 793 785 790.7 780 788C775 785.3 766.7 781 760 778C753.3 775 746.7 772.3 740 770C733.3 767.7 724.7 765.7 720 764C715.3 762.3 713.7 762 712 760C710.3 758 709.7 756 710 752C710.3 748 711.7 744.7 714 736C716.3 727.3 722 712.3 724 700C726 687.7 725.8 675 726 662C726.2 649 725.7 635.3 725 622C724.3 608.7 723.2 595.3 722 582C720.8 568.7 720.3 555.3 718 542C715.7 528.7 711 516.3 708 502C705 487.7 702 470.3 700 456C698 441.7 697.7 426 696 416C694.3 406 691.8 400.3 690 396C688.2 391.7 686 394.4 685.1 390C684.2 385.6 685 375.8 684.4 369.8C683.8 363.9 682.9 360.8 681.3 354.3C679.7 347.8 677.1 338.2 675 331C672.9 323.8 671.1 316.8 668.8 310.8C666.5 304.8 663.2 300.9 661.1 295.2C659 289.5 657.7 284.1 656.4 276.6C655.1 269.1 654.6 258.6 653.3 250.3C652 242 650 233.2 648.6 227C647.2 220.8 645.8 216.1 644.8 213C643.8 209.9 643 210.2 642.4 208.4C641.8 206.6 641 204 640.9 202.2Z" fill="none" stroke="#b1894a" stroke-width="2" opacity=".8" filter="url(#b1)"/>
</g>
<clipPath id="c_crR"><path d="M640.9 202.2C640.8 200.2 641.2 198.8 642 197.5C642.8 196.2 642.3 195.4 645.5 194.4C648.7 193.4 655.1 191.7 661.1 191.3C667.1 190.9 676.1 191.7 681.3 192.1C686.4 192.5 689.4 193 692 194C694.6 195 695.9 196.5 697 198C698.1 199.5 698.5 201.3 698.6 203C698.7 204.7 699.2 206.9 697.8 208C696.4 209.1 692.8 209.3 690 209.5C687.2 209.7 686.1 209.1 681.3 209C676.5 208.9 666.3 208.8 661.1 209C655.9 209.2 653.1 210.4 650 210.5C646.9 210.6 643.9 210.9 642.4 209.5C640.9 208.1 641 204.2 640.9 202.2Z"/></clipPath>
<path d="M640.9 202.2C640.8 200.2 641.2 198.8 642 197.5C642.8 196.2 642.3 195.4 645.5 194.4C648.7 193.4 655.1 191.7 661.1 191.3C667.1 190.9 676.1 191.7 681.3 192.1C686.4 192.5 689.4 193 692 194C694.6 195 695.9 196.5 697 198C698.1 199.5 698.5 201.3 698.6 203C698.7 204.7 699.2 206.9 697.8 208C696.4 209.1 692.8 209.3 690 209.5C687.2 209.7 686.1 209.1 681.3 209C676.5 208.9 666.3 208.8 661.1 209C655.9 209.2 653.1 210.4 650 210.5C646.9 210.6 643.9 210.9 642.4 209.5C640.9 208.1 641 204.2 640.9 202.2Z" fill="#b9cace"/>
<g clip-path="url(#c_crR)">
<path d="M648 196C651.3 194.4 663 193.7 670 193.5C677 193.3 686 193.9 690 195C694 196.1 697.3 198.7 694 200C690.7 201.3 677.3 202.5 670 203C662.7 203.5 653.7 204.2 650 203C646.3 201.8 644.7 197.6 648 196Z" fill="#dbe4e6" opacity="0.95" filter="url(#b1)"/>
<path d="M640.9 202.2C640.8 200.2 641.2 198.8 642 197.5C642.8 196.2 642.3 195.4 645.5 194.4C648.7 193.4 655.1 191.7 661.1 191.3C667.1 190.9 676.1 191.7 681.3 192.1C686.4 192.5 689.4 193 692 194C694.6 195 695.9 196.5 697 198C698.1 199.5 698.5 201.3 698.6 203C698.7 204.7 699.2 206.9 697.8 208C696.4 209.1 692.8 209.3 690 209.5C687.2 209.7 686.1 209.1 681.3 209C676.5 208.9 666.3 208.8 661.1 209C655.9 209.2 653.1 210.4 650 210.5C646.9 210.6 643.9 210.9 642.4 209.5C640.9 208.1 641 204.2 640.9 202.2Z" fill="none" stroke="#93abb2" stroke-width="3.4" opacity=".8" filter="url(#b1)"/>
</g>
</g>
<g id="leaders" fill="none" stroke="#303030" stroke-width="1.8" stroke-linecap="round" stroke-linejoin="round" filter="url(#soft)">
<path d="M292.6 191L323.7 201"/>
<path d="M292.6 237.6L331.5 230"/>
<path d="M292.6 288L348 275.4"/>
<path d="M292 342L323 342"/>
<path d="M292 412L329 423"/>
<path d="M292 483L310 479"/>
<path d="M292 539L338 539"/>
<path d="M292 605L318 605"/>
<path d="M373 484L318 605L383 703"/>
<path d="M257.5 812.5L295 785"/>
<path d="M422 112.5L534 114"/>
<path d="M452 142.5L507.5 142.5"/>
<path d="M402.5 119L452 142.5L411 165"/>
<path d="M390 177.5L507.5 169"/>
<path d="M370 201.5L474 197.5"/>
<path d="M406 240L470 230"/>
<path d="M369 281L456 281"/>
<path d="M400 343.5L456 343.5"/>
<path d="M397 400.4L455 400.4"/>
<path d="M422 457L455 457"/>
<path d="M400 561.4L455 561.4"/>
<path d="M426 764L460 767"/>
<path d="M607.5 114L722.5 111"/>
<path d="M629 141.5L682.5 141.5"/>
<path d="M725 120L682.5 141.5L719 164"/>
<path d="M631 171L715 180"/>
<path d="M707.5 229L772.5 231"/>
<path d="M727.5 249L772.5 267.5"/>
<path d="M650 350L695 350"/>
<path d="M732.5 350L772.5 350"/>
<path d="M721 422L771 408"/>
<path d="M724 454L771 449"/>
<path d="M714 496L771 490"/>
<path d="M647 525.6L696 544.6"/>
<path d="M646 677L753 749"/>
<path d="M646 740L722 745"/>
<path d="M642 766L697 756"/>
<path d="M817 650L771 751"/>
<path d="M824 684L778 756"/>
<path d="M823 750L806 755.6"/>
<path d="M791 792L812 820"/>
</g>
<g id="labels" filter="url(#softt)">
<text x="161.5" y="127.3" font-size="13.9" font-weight="700" fill="#1f1f1f" textLength="165" lengthAdjust="spacingAndGlyphs">Radio y cúbito derechos</text>
<text x="160.7" y="142.5" font-size="13.9" font-weight="700" fill="#1f1f1f" textLength="202.8" lengthAdjust="spacingAndGlyphs">en supinación: visión anterior</text>
<text x="244.5" y="195.8" font-size="13.3" fill="#555" textLength="45" lengthAdjust="spacingAndGlyphs">Cabeza</text>
<text x="249.5" y="240.3" font-size="13.3" fill="#555" textLength="40" lengthAdjust="spacingAndGlyphs">Cuello</text>
<text x="156.5" y="294.1" font-size="13.3" fill="#555" textLength="133.5" lengthAdjust="spacingAndGlyphs">Tuberosidad del radio</text>
<text x="255" y="347" font-size="13.2" font-weight="700" fill="#1f1f1f" textLength="34.5" lengthAdjust="spacingAndGlyphs">Radio</text>
<text x="210.5" y="415.3" font-size="13.3" fill="#555" textLength="79.5" lengthAdjust="spacingAndGlyphs">Cara anterior</text>
<text x="202" y="486.6" font-size="13.3" fill="#555" textLength="88" lengthAdjust="spacingAndGlyphs">Borde anterior</text>
<text x="193.5" y="542.8" font-size="13.3" fill="#555" textLength="96.5" lengthAdjust="spacingAndGlyphs">Borde interóseo</text>
<text x="223" y="592.6" font-size="13.3" fill="#555" textLength="66" lengthAdjust="spacingAndGlyphs">Membrana</text>
<text x="235.5" y="607.8" font-size="13.3" fill="#555" textLength="54" lengthAdjust="spacingAndGlyphs">interósea</text>
<text x="248" y="826.6" font-size="13.3" fill="#555" textLength="108" lengthAdjust="spacingAndGlyphs">Apófisis estiloides</text>
<text x="539" y="117.6" font-size="13.3" fill="#555" textLength="64" lengthAdjust="spacingAndGlyphs">Olécranon</text>
<text x="512.5" y="145.6" font-size="13.3" fill="#555" textLength="113.5" lengthAdjust="spacingAndGlyphs">Escotadura troclear</text>
<text x="510.5" y="174.1" font-size="13.3" fill="#555" textLength="118.5" lengthAdjust="spacingAndGlyphs">Apófisis coronoides</text>
<text x="479.5" y="201.6" font-size="13.3" fill="#555" textLength="105" lengthAdjust="spacingAndGlyphs">Escotadura radial</text>
<text x="479.5" y="216.6" font-size="13.3" fill="#555" textLength="62" lengthAdjust="spacingAndGlyphs">del cúbito</text>
<text x="473" y="235.1" font-size="13.3" fill="#555" textLength="141" lengthAdjust="spacingAndGlyphs">Tuberosidad del cúbito</text>
<text x="459" y="285.1" font-size="13.3" fill="#555" textLength="92.5" lengthAdjust="spacingAndGlyphs">Cuerda oblicua</text>
<text x="459" y="348" font-size="13.2" font-weight="700" fill="#1f1f1f" textLength="41" lengthAdjust="spacingAndGlyphs">Cúbito</text>
<text x="459" y="404.6" font-size="13.3" fill="#555" textLength="79.5" lengthAdjust="spacingAndGlyphs">Cara anterior</text>
<text x="459" y="461.6" font-size="13.3" fill="#555" textLength="87.5" lengthAdjust="spacingAndGlyphs">Borde anterior</text>
<text x="459" y="566.6" font-size="13.3" fill="#555" textLength="37" lengthAdjust="spacingAndGlyphs">Borde</text>
<text x="459" y="581.6" font-size="13.3" fill="#555" textLength="56.5" lengthAdjust="spacingAndGlyphs">interóseo</text>
<text x="465" y="771.6" font-size="13.3" fill="#555" textLength="172" lengthAdjust="spacingAndGlyphs">Apófisis estiloides del cúbito</text>
<text x="613" y="355.5" font-size="13.2" font-weight="700" fill="#1f1f1f" textLength="35" lengthAdjust="spacingAndGlyphs">Radio</text>
<text x="517.5" y="533.3" font-size="13.3" fill="#555" textLength="123.5" lengthAdjust="spacingAndGlyphs">Membrana interósea</text>
<text x="508" y="662.6" font-size="13.3" fill="#555" textLength="133" lengthAdjust="spacingAndGlyphs">Surco para el músculo</text>
<text x="490.5" y="678.6" font-size="13.3" fill="#555" textLength="150.5" lengthAdjust="spacingAndGlyphs">extensor largo del pulgar</text>
<text x="496.5" y="712.6" font-size="13.3" fill="#555" textLength="144.5" lengthAdjust="spacingAndGlyphs">Surco para los músculos</text>
<text x="486" y="727.8" font-size="13.3" fill="#555" textLength="155" lengthAdjust="spacingAndGlyphs">extensores de los dedos y</text>
<text x="580" y="743.3" font-size="13.3" fill="#555" textLength="61" lengthAdjust="spacingAndGlyphs">del índice</text>
<text x="806" y="123.3" font-size="13.9" font-weight="700" fill="#1f1f1f" textLength="99" lengthAdjust="spacingAndGlyphs">Radio y cúbito</text>
<text x="806" y="139.3" font-size="13.9" font-weight="700" fill="#1f1f1f" textLength="61.5" lengthAdjust="spacingAndGlyphs">derechos</text>
<text x="806" y="155" font-size="13.9" font-weight="700" fill="#1f1f1f" textLength="94" lengthAdjust="spacingAndGlyphs">en pronación:</text>
<text x="806" y="171" font-size="13.9" font-weight="700" fill="#1f1f1f" textLength="98.5" lengthAdjust="spacingAndGlyphs">visión anterior</text>
<text x="774" y="237.3" font-size="13.3" fill="#555" textLength="93.5" lengthAdjust="spacingAndGlyphs">Cuerda oblicua</text>
<text x="774" y="273.1" font-size="13.3" fill="#555" textLength="141" lengthAdjust="spacingAndGlyphs">Tuberosidad del cúbito</text>
<text x="774" y="355.5" font-size="13.2" font-weight="700" fill="#1f1f1f" textLength="41.5" lengthAdjust="spacingAndGlyphs">Cúbito</text>
<text x="774" y="412.6" font-size="13.3" fill="#555" textLength="70" lengthAdjust="spacingAndGlyphs">Cara lateral</text>
<text x="774" y="453.3" font-size="13.3" fill="#555" textLength="93.5" lengthAdjust="spacingAndGlyphs">Borde posterior</text>
<text x="774" y="494.3" font-size="13.3" fill="#555" textLength="85" lengthAdjust="spacingAndGlyphs">Cara posterior</text>
<text x="813.5" y="646.6" font-size="13.3" fill="#555" textLength="164" lengthAdjust="spacingAndGlyphs">Tubérculo dorsal (de Lister)</text>
<text x="825" y="684.3" font-size="13.3" fill="#555" textLength="148" lengthAdjust="spacingAndGlyphs">Surco para los músculos</text>
<text x="825" y="700.3" font-size="13.3" fill="#555" textLength="148.5" lengthAdjust="spacingAndGlyphs">extensores radiales largo</text>
<text x="825" y="715.6" font-size="13.3" fill="#555" textLength="104.5" lengthAdjust="spacingAndGlyphs">y corto del carpo</text>
<text x="825" y="754.1" font-size="13.3" fill="#555" textLength="141.5" lengthAdjust="spacingAndGlyphs">Área para los músculos</text>
<text x="825" y="769.8" font-size="13.3" fill="#555" textLength="151" lengthAdjust="spacingAndGlyphs">extensor corto del pulgar</text>
<text x="825" y="785.3" font-size="13.3" fill="#555" textLength="122" lengthAdjust="spacingAndGlyphs">y abductor largo del</text>
<text x="825" y="800.8" font-size="13.3" fill="#555" textLength="37" lengthAdjust="spacingAndGlyphs">pulgar</text>
<text x="811" y="833.3" font-size="13.3" fill="#555" textLength="107" lengthAdjust="spacingAndGlyphs">Apófisis estiloides</text>
</g>
</svg>
</body>
</html>
